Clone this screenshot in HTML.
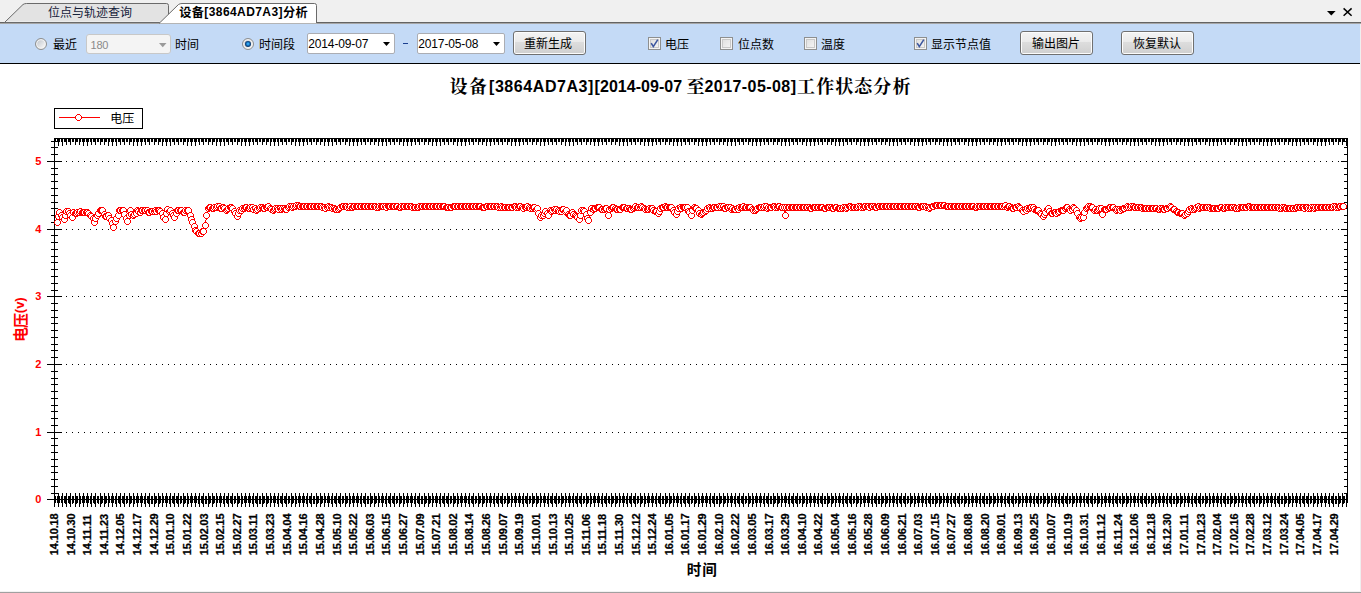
<!DOCTYPE html><html lang="zh"><head><meta charset="utf-8"><title>设备[3864AD7A3]分析</title><style>

html,body{margin:0;padding:0}
body{width:1361px;height:593px;overflow:hidden;background:#fff;position:relative;font-family:"Liberation Sans","Noto Sans CJK SC",sans-serif;font-size:12px;color:#000}
.abs{position:absolute}
#tabstrip{left:0;top:0;width:1361px;height:24px;background:#f0f0f0}
#toolbar{left:0;top:24px;width:1360px;height:39px;background:#c4daf6}
#tbline{left:0;top:63px;width:1361px;height:1px;background:#000}
.lat{position:absolute;white-space:pre;line-height:1}
.btn{position:absolute;box-sizing:border-box;height:24px;width:73px;border:1px solid #707070;border-radius:3px;
 background:linear-gradient(#f3f3f3 0%,#ebebeb 43%,#dddddd 47%,#cfcfcf 100%);box-shadow:inset 0 0 0 1px #fcfcfc}
.date{position:absolute;box-sizing:border-box;width:88px;height:21px;top:9px;border:1px solid #abadb3;border-radius:2px;background:#fff}
.combo{position:absolute;box-sizing:border-box;left:86px;top:10px;width:85px;height:20px;border:1px solid #c8c8c8;border-radius:3px;background:#f4f4f4}
.chk{position:absolute;box-sizing:border-box;width:13px;height:13px;top:13px;border:1px solid #8e8f8f;background:linear-gradient(135deg,#dcdcdc,#f8f8f8);box-shadow:inset 0 0 0 1px #f4f4f4, inset 0 0 0 2px #c9c9c9}
.radio{position:absolute;box-sizing:border-box;width:12px;height:12px;top:14px;border:1px solid #8e8f8f;border-radius:50%;background:linear-gradient(135deg,#c4c9cf 15%,#f7f7f7 85%);box-shadow:inset 0 0 0 1.2px #f3f3f3}
.cjk{font-family:"Liberation Sans","Noto Sans CJK SC",sans-serif}
.cjkserif{font-family:"Liberation Serif","Noto Serif CJK SC",serif}

</style></head><body>
<div id="tabstrip" class="abs"></div>
<svg class="abs" style="left:0;top:0" width="1361" height="24" viewBox="0 0 1361 24"><rect x="0" y="22" width="1361" height="1" fill="#636363"/><rect x="0" y="23" width="1361" height="1" fill="#a6a6a6"/><path d="M4.5 22.5 L23 4.5 Q24.5 3.5 26.5 3.5 L166.5 3.5 Q168.5 3.5 168.5 5.5 L168.5 22.5 Z" fill="#e3e3e3" stroke="#6a6a6a" stroke-width="1"/><rect x="6" y="21" width="154" height="1" fill="#ebebeb"/><path d="M159.5 23 L178.5 4.5 Q180 3.5 182 3.5 L314.5 3.5 Q316.5 3.5 316.5 5.5 L316.5 23 Z" fill="#fff" stroke="#6a6a6a" stroke-width="1"/><rect x="160.6" y="22" width="155.4" height="1" fill="#fff"/><rect x="160" y="23" width="157" height="1" fill="#b4b4b4"/><path d="M1327 11 h8.6 l-4.3 4.4 z" fill="#000"/><path d="M1343.6 8.4 L1351.6 15.8 M1351.6 8.4 L1343.6 15.8" stroke="#000" stroke-width="1.5" fill="none"/></svg>
<svg style="position:absolute;left:47.8px;top:5px;overflow:visible" width="86" height="16"><text class="cjk" x="0" y="12" font-size="12" fill="#15213a">位点与轨迹查询</text></svg>
<svg style="position:absolute;left:178.5px;top:5px;overflow:visible" width="26" height="16"><text class="cjk" x="0.2" y="12" font-size="12.2" font-weight="bold" letter-spacing="0.4" fill="#000">设备</text></svg>
<span class="lat" style="left:204.3px;top:6px;font-weight:bold;font-size:12px;letter-spacing:0.42px">[3864AD7A3]</span>
<svg style="position:absolute;left:282.6px;top:5px;overflow:visible" width="26" height="16"><text class="cjk" x="0.1" y="12" font-size="12.2" font-weight="bold" letter-spacing="0.2" fill="#000">分析</text></svg>
<div id="toolbar" class="abs">
<div class="radio" style="left:35px"></div>
<div class="combo"><span class="lat" style="left:3.6px;top:4.5px;font-size:11px;color:#8a8a8a;letter-spacing:-0.3px">180</span><svg class="abs" style="left:72px;top:8px" width="8" height="5"><path d="M0 0h7.5L3.75 4.2z" fill="#9a9a9a"/></svg></div>
<div class="radio" style="left:242px"><div class="abs" style="left:1.7px;top:1.7px;width:6.6px;height:6.6px;border-radius:50%;background:radial-gradient(circle closest-side at 50% 48%,#4fc0ff 0%,#1f92e2 38%,#10579c 72%,#0b3566 100%)"></div></div>
<div class="date" style="left:307px"><span class="lat" style="left:0.3px;top:3.5px;font-size:12px;letter-spacing:-0.15px">2014-09-07</span><svg class="abs" style="left:75px;top:8px" width="8" height="5"><path d="M0 0h7L3.5 4z" fill="#000"/></svg></div>
<div class="date" style="left:417px"><span class="lat" style="left:0.3px;top:3.5px;font-size:12px;letter-spacing:-0.15px">2017-05-08</span><svg class="abs" style="left:75px;top:8px" width="8" height="5"><path d="M0 0h7L3.5 4z" fill="#000"/></svg></div>
<div class="abs" style="left:403px;top:19px;width:5px;height:1px;background:#1b3f8f"></div>
<div class="btn" style="left:513px;top:7px"></div>
<div class="btn" style="left:1020px;top:7px"></div>
<div class="btn" style="left:1121px;top:7px"></div>
<div class="chk" style="left:648px"><svg class="abs" style="left:0;top:0" width="11" height="11"><path d="M2.2 5.2 L4.3 8.6 L8.8 1.6" fill="none" stroke="#3d579f" stroke-width="1.6"/></svg></div>
<div class="chk" style="left:720px"></div>
<div class="chk" style="left:804px"></div>
<div class="chk" style="left:914px"><svg class="abs" style="left:0;top:0" width="11" height="11"><path d="M2.2 5.2 L4.3 8.6 L8.8 1.6" fill="none" stroke="#3d579f" stroke-width="1.6"/></svg></div>
</div>
<div id="tbline" class="abs"></div>
<svg style="position:absolute;left:52.7px;top:37px;overflow:visible" width="26" height="16"><text class="cjk" x="0" y="11.7" font-size="12" fill="#000">最近</text></svg>
<svg style="position:absolute;left:175px;top:37px;overflow:visible" width="26" height="16"><text class="cjk" x="0" y="11.7" font-size="12" fill="#000">时间</text></svg>
<svg style="position:absolute;left:258.9px;top:37px;overflow:visible" width="38" height="16"><text class="cjk" x="0" y="11.7" font-size="12" fill="#000">时间段</text></svg>
<svg style="position:absolute;left:524.2px;top:37px;overflow:visible" width="50" height="16"><text class="cjk" x="0" y="11" font-size="12" fill="#000">重新生成</text></svg>
<svg style="position:absolute;left:665.3px;top:37px;overflow:visible" width="26" height="16"><text class="cjk" x="0" y="11.7" font-size="12" fill="#000">电压</text></svg>
<svg style="position:absolute;left:738px;top:37px;overflow:visible" width="38" height="16"><text class="cjk" x="0" y="11.7" font-size="12" fill="#000">位点数</text></svg>
<svg style="position:absolute;left:821.3px;top:37px;overflow:visible" width="26" height="16"><text class="cjk" x="0" y="11.7" font-size="12" fill="#000">温度</text></svg>
<svg style="position:absolute;left:931.3px;top:37px;overflow:visible" width="62" height="16"><text class="cjk" x="0" y="11.7" font-size="12" fill="#000">显示节点值</text></svg>
<svg style="position:absolute;left:1031.6px;top:37px;overflow:visible" width="50" height="16"><text class="cjk" x="0" y="11" font-size="12" fill="#000">输出图片</text></svg>
<svg style="position:absolute;left:1132.5px;top:37px;overflow:visible" width="50" height="16"><text class="cjk" x="0" y="11" font-size="12" fill="#000">恢复默认</text></svg>
<svg class="abs" style="left:0;top:0" width="1361" height="593" viewBox="0 0 1361 593" font-family='"Liberation Sans",sans-serif'><rect x="1360" y="24" width="1" height="569" fill="#efefef"/><rect x="0" y="591" width="1361" height="1" fill="#f2f2f2"/><rect x="0" y="592" width="1361" height="1" fill="#a0a0a0"/><g shape-rendering="crispEdges" fill="#000"><rect x="54" y="138" width="1294" height="1"/><rect x="47" y="499" width="1301" height="1"/><rect x="54" y="138" width="1" height="362"/><rect x="1347" y="138" width="1" height="365"/><path transform="translate(0.5 0)" d="M54 139v7M54 493v14M55 139v3M55 496v7M57 139v3M57 496v7M58 139v7M58 493v14M59 139v3M59 496v7M61 139v3M61 496v7M62 139v7M62 493v14M64 139v3M64 496v7M65 139v3M65 496v8M66 139v6M66 493v14M68 139v3M68 496v7M69 139v3M69 496v8M70 139v6M70 493v14M72 139v3M72 496v8M73 139v3M73 496v7M75 139v6M75 493v14M76 139v3M76 496v8M77 139v3M77 496v7M79 139v6M79 493v14M80 139v3M80 496v8M82 139v3M82 496v7M83 139v7M83 493v14M84 139v3M84 496v7M86 139v3M86 496v7M87 139v7M87 493v14M88 139v3M88 496v7M90 139v3M90 496v8M91 139v6M91 493v14M93 139v3M93 496v7M94 139v3M94 496v8M95 139v6M95 493v14M97 139v3M97 496v7M98 139v3M98 496v8M100 139v6M100 493v14M101 139v3M101 496v8M102 139v3M102 496v7M104 139v6M104 493v14M105 139v3M105 496v8M106 139v3M106 496v7M108 139v7M108 493v14M109 139v3M109 496v7M111 139v3M111 496v7M112 139v7M112 493v14M113 139v3M113 496v7M115 139v3M115 496v8M116 139v7M116 493v14M118 139v3M118 496v7M119 139v3M119 496v8M120 139v6M120 493v14M122 139v3M122 496v7M123 139v3M123 496v8M124 139v6M124 493v14M126 139v3M126 496v8M127 139v3M127 496v7M129 139v6M129 493v14M130 139v3M130 496v8M131 139v3M131 496v7M133 139v7M133 493v14M134 139v3M134 496v8M136 139v3M136 496v7M137 139v7M137 493v14M138 139v3M138 496v7M140 139v3M140 496v7M141 139v7M141 493v14M142 139v3M142 496v7M144 139v3M144 496v8M145 139v6M145 493v14M147 139v3M147 496v7M148 139v3M148 496v8M149 139v6M149 493v14M151 139v3M151 496v8M152 139v3M152 496v8M154 139v6M154 493v14M155 139v3M155 496v8M156 139v3M156 496v7M158 139v6M158 493v14M159 139v3M159 496v8M160 139v3M160 496v7M162 139v7M162 493v14M163 139v3M163 496v7M165 139v3M165 496v7M166 139v7M166 493v14M167 139v3M167 496v7M169 139v3M169 496v8M170 139v7M170 493v14M172 139v3M172 496v7M173 139v3M173 496v8M174 139v6M174 493v14M176 139v3M176 496v7M177 139v3M177 496v8M178 139v6M178 493v14M180 139v3M180 496v8M181 139v3M181 496v7M183 139v6M183 493v14M184 139v3M184 496v8M185 139v3M185 496v7M187 139v7M187 493v14M188 139v3M188 496v8M190 139v3M190 496v7M191 139v7M191 493v14M192 139v3M192 496v7M194 139v3M194 496v7M195 139v7M195 493v14M196 139v3M196 496v7M198 139v3M198 496v8M199 139v6M199 493v14M201 139v3M201 496v7M202 139v3M202 496v8M203 139v6M203 493v14M205 139v3M205 496v8M206 139v3M206 496v8M208 139v6M208 493v14M209 139v3M209 496v8M210 139v3M210 496v7M212 139v6M212 493v14M213 139v3M213 496v8M214 139v3M214 496v7M216 139v7M216 493v14M217 139v3M217 496v7M219 139v3M219 496v7M220 139v7M220 493v14M221 139v3M221 496v7M223 139v3M223 496v8M224 139v7M224 493v14M226 139v3M226 496v7M227 139v3M227 496v8M228 139v6M228 493v14M230 139v3M230 496v7M231 139v3M231 496v8M232 139v6M232 493v14M234 139v3M234 496v8M235 139v3M235 496v7M237 139v6M237 493v14M238 139v3M238 496v8M239 139v3M239 496v7M241 139v7M241 493v14M242 139v3M242 496v8M244 139v3M244 496v7M245 139v7M245 493v14M246 139v3M246 496v7M248 139v3M248 496v7M249 139v7M249 493v14M250 139v3M250 496v7M252 139v3M252 496v8M253 139v6M253 493v14M255 139v3M255 496v7M256 139v3M256 496v8M257 139v6M257 493v14M259 139v3M259 496v8M260 139v3M260 496v8M262 139v6M262 493v14M263 139v3M263 496v8M264 139v3M264 496v7M266 139v6M266 493v14M267 139v3M267 496v8M268 139v3M268 496v7M270 139v7M270 493v14M271 139v3M271 496v7M273 139v3M273 496v7M274 139v7M274 493v14M275 139v3M275 496v7M277 139v3M277 496v8M278 139v7M278 493v14M280 139v3M280 496v7M281 139v3M281 496v8M282 139v6M282 493v14M284 139v3M284 496v7M285 139v3M285 496v8M286 139v6M286 493v14M288 139v3M288 496v8M289 139v3M289 496v7M291 139v6M291 493v14M292 139v3M292 496v8M293 139v3M293 496v7M295 139v7M295 493v14M296 139v3M296 496v8M298 139v3M298 496v7M299 139v7M299 493v14M300 139v3M300 496v7M302 139v3M302 496v7M303 139v7M303 493v14M304 139v3M304 496v7M306 139v3M306 496v8M307 139v6M307 493v14M309 139v3M309 496v7M310 139v3M310 496v8M311 139v6M311 493v14M313 139v3M313 496v8M314 139v3M314 496v8M316 139v6M316 493v14M317 139v3M317 496v8M318 139v3M318 496v7M320 139v6M320 493v14M321 139v3M321 496v8M322 139v3M322 496v7M324 139v7M324 493v14M325 139v3M325 496v7M327 139v3M327 496v7M328 139v7M328 493v14M329 139v3M329 496v7M331 139v3M331 496v8M332 139v7M332 493v14M334 139v3M334 496v7M335 139v3M335 496v8M336 139v6M336 493v14M338 139v3M338 496v7M339 139v3M339 496v8M340 139v6M340 493v14M342 139v3M342 496v8M343 139v3M343 496v7M345 139v6M345 493v14M346 139v3M346 496v8M347 139v3M347 496v7M349 139v7M349 493v14M350 139v3M350 496v8M352 139v3M352 496v7M353 139v7M353 493v14M354 139v3M354 496v7M356 139v3M356 496v7M357 139v7M357 493v14M358 139v3M358 496v7M360 139v3M360 496v8M361 139v6M361 493v14M363 139v3M363 496v7M364 139v3M364 496v8M365 139v6M365 493v14M367 139v3M367 496v8M368 139v3M368 496v8M370 139v6M370 493v14M371 139v3M371 496v8M372 139v3M372 496v7M374 139v6M374 493v14M375 139v3M375 496v8M376 139v3M376 496v7M378 139v7M378 493v14M379 139v3M379 496v7M381 139v3M381 496v7M382 139v7M382 493v14M383 139v3M383 496v7M385 139v3M385 496v8M386 139v7M386 493v14M388 139v3M388 496v7M389 139v3M389 496v8M390 139v6M390 493v14M392 139v3M392 496v7M393 139v3M393 496v8M394 139v6M394 493v14M396 139v3M396 496v8M397 139v3M397 496v7M399 139v6M399 493v14M400 139v3M400 496v8M401 139v3M401 496v7M403 139v7M403 493v14M404 139v3M404 496v8M406 139v3M406 496v7M407 139v7M407 493v14M408 139v3M408 496v7M410 139v3M410 496v7M411 139v7M411 493v14M412 139v3M412 496v7M414 139v3M414 496v8M415 139v6M415 493v14M417 139v3M417 496v7M418 139v3M418 496v8M419 139v6M419 493v14M421 139v3M421 496v8M422 139v3M422 496v8M424 139v6M424 493v14M425 139v3M425 496v8M426 139v3M426 496v7M428 139v6M428 493v14M429 139v3M429 496v8M430 139v3M430 496v7M432 139v7M432 493v14M433 139v3M433 496v7M435 139v3M435 496v7M436 139v7M436 493v14M437 139v3M437 496v7M439 139v3M439 496v8M440 139v7M440 493v14M442 139v3M442 496v7M443 139v3M443 496v8M444 139v6M444 493v14M446 139v3M446 496v7M447 139v3M447 496v8M448 139v6M448 493v14M450 139v3M450 496v8M451 139v3M451 496v7M453 139v6M453 493v14M454 139v3M454 496v8M455 139v3M455 496v7M457 139v7M457 493v14M458 139v3M458 496v8M460 139v3M460 496v7M461 139v7M461 493v14M462 139v3M462 496v7M464 139v3M464 496v7M465 139v7M465 493v14M466 139v3M466 496v7M468 139v3M468 496v8M469 139v6M469 493v14M471 139v3M471 496v7M472 139v3M472 496v8M473 139v6M473 493v14M475 139v3M475 496v8M476 139v3M476 496v7M478 139v6M478 493v14M479 139v3M479 496v8M480 139v3M480 496v7M482 139v6M482 493v14M483 139v3M483 496v8M484 139v3M484 496v7M486 139v7M486 493v14M487 139v3M487 496v7M489 139v3M489 496v7M490 139v7M490 493v14M491 139v3M491 496v7M493 139v3M493 496v8M494 139v6M494 493v14M496 139v3M496 496v7M497 139v3M497 496v8M498 139v6M498 493v14M500 139v3M500 496v7M501 139v3M501 496v8M502 139v6M502 493v14M504 139v3M504 496v8M505 139v3M505 496v7M507 139v6M507 493v14M508 139v3M508 496v8M509 139v3M509 496v7M511 139v7M511 493v14M512 139v3M512 496v7M514 139v3M514 496v7M515 139v7M515 493v14M516 139v3M516 496v7M518 139v3M518 496v7M519 139v7M519 493v14M520 139v3M520 496v7M522 139v3M522 496v8M523 139v6M523 493v14M525 139v3M525 496v7M526 139v3M526 496v8M527 139v6M527 493v14M529 139v3M529 496v8M530 139v3M530 496v7M532 139v6M532 493v14M533 139v3M533 496v8M534 139v3M534 496v7M536 139v6M536 493v14M537 139v3M537 496v8M538 139v3M538 496v7M540 139v7M540 493v14M541 139v3M541 496v7M543 139v3M543 496v7M544 139v7M544 493v14M545 139v3M545 496v7M547 139v3M547 496v8M548 139v6M548 493v14M550 139v3M550 496v7M551 139v3M551 496v8M552 139v6M552 493v14M554 139v3M554 496v7M555 139v3M555 496v8M556 139v6M556 493v14M558 139v3M558 496v8M559 139v3M559 496v7M561 139v6M561 493v14M562 139v3M562 496v8M563 139v3M563 496v7M565 139v7M565 493v14M566 139v3M566 496v7M568 139v3M568 496v7M569 139v7M569 493v14M570 139v3M570 496v7M572 139v3M572 496v7M573 139v7M573 493v14M575 139v3M575 496v7M576 139v3M576 496v8M577 139v6M577 493v14M579 139v3M579 496v7M580 139v3M580 496v8M581 139v6M581 493v14M583 139v3M583 496v8M584 139v3M584 496v7M586 139v6M586 493v14M587 139v3M587 496v8M588 139v3M588 496v7M590 139v6M590 493v14M591 139v3M591 496v8M593 139v3M593 496v7M594 139v7M594 493v14M595 139v3M595 496v7M597 139v3M597 496v7M598 139v7M598 493v14M599 139v3M599 496v7M601 139v3M601 496v8M602 139v6M602 493v14M604 139v3M604 496v7M605 139v3M605 496v8M606 139v6M606 493v14M608 139v3M608 496v7M609 139v3M609 496v8M611 139v6M611 493v14M612 139v3M612 496v8M613 139v3M613 496v7M615 139v6M615 493v14M616 139v3M616 496v8M617 139v3M617 496v7M619 139v7M619 493v14M620 139v3M620 496v7M622 139v3M622 496v7M623 139v7M623 493v14M624 139v3M624 496v7M626 139v3M626 496v8M627 139v7M627 493v14M629 139v3M629 496v7M630 139v3M630 496v8M631 139v6M631 493v14M633 139v3M633 496v7M634 139v3M634 496v8M635 139v6M635 493v14M637 139v3M637 496v8M638 139v3M638 496v7M640 139v6M640 493v14M641 139v3M641 496v8M642 139v3M642 496v7M644 139v7M644 493v14M645 139v3M645 496v8M647 139v3M647 496v7M648 139v7M648 493v14M649 139v3M649 496v7M651 139v3M651 496v7M652 139v7M652 493v14M653 139v3M653 496v7M655 139v3M655 496v8M656 139v6M656 493v14M658 139v3M658 496v7M659 139v3M659 496v8M660 139v6M660 493v14M662 139v3M662 496v8M663 139v3M663 496v8M665 139v6M665 493v14M666 139v3M666 496v8M667 139v3M667 496v7M669 139v6M669 493v14M670 139v3M670 496v8M671 139v3M671 496v7M673 139v7M673 493v14M674 139v3M674 496v7M676 139v3M676 496v7M677 139v7M677 493v14M678 139v3M678 496v7M680 139v3M680 496v8M681 139v7M681 493v14M683 139v3M683 496v7M684 139v3M684 496v8M685 139v6M685 493v14M687 139v3M687 496v7M688 139v3M688 496v8M689 139v6M689 493v14M691 139v3M691 496v8M692 139v3M692 496v7M694 139v6M694 493v14M695 139v3M695 496v8M696 139v3M696 496v7M698 139v7M698 493v14M699 139v3M699 496v8M701 139v3M701 496v7M702 139v7M702 493v14M703 139v3M703 496v7M705 139v3M705 496v7M706 139v7M706 493v14M707 139v3M707 496v7M709 139v3M709 496v8M710 139v6M710 493v14M712 139v3M712 496v7M713 139v3M713 496v8M714 139v6M714 493v14M716 139v3M716 496v8M717 139v3M717 496v8M719 139v6M719 493v14M720 139v3M720 496v8M721 139v3M721 496v7M723 139v6M723 493v14M724 139v3M724 496v8M725 139v3M725 496v7M727 139v7M727 493v14M728 139v3M728 496v7M730 139v3M730 496v7M731 139v7M731 493v14M732 139v3M732 496v7M734 139v3M734 496v8M735 139v7M735 493v14M737 139v3M737 496v7M738 139v3M738 496v8M739 139v6M739 493v14M741 139v3M741 496v7M742 139v3M742 496v8M743 139v6M743 493v14M745 139v3M745 496v8M746 139v3M746 496v7M748 139v6M748 493v14M749 139v3M749 496v8M750 139v3M750 496v7M752 139v7M752 493v14M753 139v3M753 496v8M755 139v3M755 496v7M756 139v7M756 493v14M757 139v3M757 496v7M759 139v3M759 496v7M760 139v7M760 493v14M761 139v3M761 496v7M763 139v3M763 496v8M764 139v6M764 493v14M766 139v3M766 496v7M767 139v3M767 496v8M768 139v6M768 493v14M770 139v3M770 496v8M771 139v3M771 496v8M773 139v6M773 493v14M774 139v3M774 496v8M775 139v3M775 496v7M777 139v6M777 493v14M778 139v3M778 496v8M779 139v3M779 496v7M781 139v7M781 493v14M782 139v3M782 496v7M784 139v3M784 496v7M785 139v7M785 493v14M786 139v3M786 496v7M788 139v3M788 496v8M789 139v7M789 493v14M791 139v3M791 496v7M792 139v3M792 496v8M793 139v6M793 493v14M795 139v3M795 496v7M796 139v3M796 496v8M797 139v6M797 493v14M799 139v3M799 496v8M800 139v3M800 496v7M802 139v6M802 493v14M803 139v3M803 496v8M804 139v3M804 496v7M806 139v7M806 493v14M807 139v3M807 496v8M809 139v3M809 496v7M810 139v7M810 493v14M811 139v3M811 496v7M813 139v3M813 496v7M814 139v7M814 493v14M815 139v3M815 496v7M817 139v3M817 496v8M818 139v6M818 493v14M820 139v3M820 496v7M821 139v3M821 496v8M822 139v6M822 493v14M824 139v3M824 496v8M825 139v3M825 496v8M827 139v6M827 493v14M828 139v3M828 496v8M829 139v3M829 496v7M831 139v6M831 493v14M832 139v3M832 496v8M833 139v3M833 496v7M835 139v7M835 493v14M836 139v3M836 496v7M838 139v3M838 496v7M839 139v7M839 493v14M840 139v3M840 496v7M842 139v3M842 496v8M843 139v7M843 493v14M845 139v3M845 496v7M846 139v3M846 496v8M847 139v6M847 493v14M849 139v3M849 496v7M850 139v3M850 496v8M851 139v6M851 493v14M853 139v3M853 496v8M854 139v3M854 496v7M856 139v6M856 493v14M857 139v3M857 496v8M858 139v3M858 496v7M860 139v7M860 493v14M861 139v3M861 496v8M863 139v3M863 496v7M864 139v7M864 493v14M865 139v3M865 496v7M867 139v3M867 496v7M868 139v7M868 493v14M869 139v3M869 496v7M871 139v3M871 496v8M872 139v6M872 493v14M874 139v3M874 496v7M875 139v3M875 496v8M876 139v6M876 493v14M878 139v3M878 496v8M879 139v3M879 496v8M881 139v6M881 493v14M882 139v3M882 496v8M883 139v3M883 496v7M885 139v6M885 493v14M886 139v3M886 496v8M887 139v3M887 496v7M889 139v7M889 493v14M890 139v3M890 496v7M892 139v3M892 496v7M893 139v7M893 493v14M894 139v3M894 496v7M896 139v3M896 496v8M897 139v7M897 493v14M899 139v3M899 496v7M900 139v3M900 496v8M901 139v6M901 493v14M903 139v3M903 496v7M904 139v3M904 496v8M905 139v6M905 493v14M907 139v3M907 496v8M908 139v3M908 496v7M910 139v6M910 493v14M911 139v3M911 496v8M912 139v3M912 496v7M914 139v7M914 493v14M915 139v3M915 496v8M917 139v3M917 496v7M918 139v7M918 493v14M919 139v3M919 496v7M921 139v3M921 496v7M922 139v7M922 493v14M923 139v3M923 496v7M925 139v3M925 496v8M926 139v6M926 493v14M928 139v3M928 496v7M929 139v3M929 496v8M930 139v6M930 493v14M932 139v3M932 496v8M933 139v3M933 496v8M935 139v6M935 493v14M936 139v3M936 496v8M937 139v3M937 496v7M939 139v6M939 493v14M940 139v3M940 496v8M941 139v3M941 496v7M943 139v7M943 493v14M944 139v3M944 496v7M946 139v3M946 496v7M947 139v7M947 493v14M948 139v3M948 496v7M950 139v3M950 496v8M951 139v7M951 493v14M953 139v3M953 496v7M954 139v3M954 496v8M955 139v6M955 493v14M957 139v3M957 496v7M958 139v3M958 496v8M959 139v6M959 493v14M961 139v3M961 496v8M962 139v3M962 496v7M964 139v6M964 493v14M965 139v3M965 496v8M966 139v3M966 496v7M968 139v7M968 493v14M969 139v3M969 496v8M971 139v3M971 496v7M972 139v7M972 493v14M973 139v3M973 496v7M975 139v3M975 496v7M976 139v7M976 493v14M977 139v3M977 496v7M979 139v3M979 496v8M980 139v6M980 493v14M982 139v3M982 496v7M983 139v3M983 496v8M984 139v6M984 493v14M986 139v3M986 496v8M987 139v3M987 496v8M989 139v6M989 493v14M990 139v3M990 496v8M991 139v3M991 496v7M993 139v6M993 493v14M994 139v3M994 496v8M995 139v3M995 496v7M997 139v7M997 493v14M998 139v3M998 496v7M1000 139v3M1000 496v7M1001 139v7M1001 493v14M1002 139v3M1002 496v7M1004 139v3M1004 496v8M1005 139v6M1005 493v14M1007 139v3M1007 496v7M1008 139v3M1008 496v8M1009 139v6M1009 493v14M1011 139v3M1011 496v7M1012 139v3M1012 496v8M1013 139v6M1013 493v14M1015 139v3M1015 496v8M1016 139v3M1016 496v7M1018 139v6M1018 493v14M1019 139v3M1019 496v8M1020 139v3M1020 496v7M1022 139v7M1022 493v14M1023 139v3M1023 496v7M1025 139v3M1025 496v7M1026 139v7M1026 493v14M1027 139v3M1027 496v7M1029 139v3M1029 496v7M1030 139v7M1030 493v14M1031 139v3M1031 496v7M1033 139v3M1033 496v8M1034 139v6M1034 493v14M1036 139v3M1036 496v7M1037 139v3M1037 496v8M1038 139v6M1038 493v14M1040 139v3M1040 496v8M1041 139v3M1041 496v7M1043 139v6M1043 493v14M1044 139v3M1044 496v8M1045 139v3M1045 496v7M1047 139v6M1047 493v14M1048 139v3M1048 496v8M1049 139v3M1049 496v7M1051 139v7M1051 493v14M1052 139v3M1052 496v7M1054 139v3M1054 496v7M1055 139v7M1055 493v14M1056 139v3M1056 496v7M1058 139v3M1058 496v8M1059 139v6M1059 493v14M1061 139v3M1061 496v7M1062 139v3M1062 496v8M1063 139v6M1063 493v14M1065 139v3M1065 496v7M1066 139v3M1066 496v8M1067 139v6M1067 493v14M1069 139v3M1069 496v8M1070 139v3M1070 496v7M1072 139v6M1072 493v14M1073 139v3M1073 496v8M1074 139v3M1074 496v7M1076 139v7M1076 493v14M1077 139v3M1077 496v7M1079 139v3M1079 496v7M1080 139v7M1080 493v14M1081 139v3M1081 496v7M1083 139v3M1083 496v7M1084 139v7M1084 493v14M1086 139v3M1086 496v7M1087 139v3M1087 496v8M1088 139v6M1088 493v14M1090 139v3M1090 496v7M1091 139v3M1091 496v8M1092 139v6M1092 493v14M1094 139v3M1094 496v8M1095 139v3M1095 496v7M1097 139v6M1097 493v14M1098 139v3M1098 496v8M1099 139v3M1099 496v7M1101 139v6M1101 493v14M1102 139v3M1102 496v8M1104 139v3M1104 496v7M1105 139v7M1105 493v14M1106 139v3M1106 496v7M1108 139v3M1108 496v7M1109 139v7M1109 493v14M1110 139v3M1110 496v7M1112 139v3M1112 496v8M1113 139v6M1113 493v14M1115 139v3M1115 496v7M1116 139v3M1116 496v8M1117 139v6M1117 493v14M1119 139v3M1119 496v7M1120 139v3M1120 496v8M1122 139v6M1122 493v14M1123 139v3M1123 496v8M1124 139v3M1124 496v7M1126 139v6M1126 493v14M1127 139v3M1127 496v8M1128 139v3M1128 496v7M1130 139v7M1130 493v14M1131 139v3M1131 496v7M1133 139v3M1133 496v7M1134 139v7M1134 493v14M1135 139v3M1135 496v7M1137 139v3M1137 496v7M1138 139v7M1138 493v14M1140 139v3M1140 496v7M1141 139v3M1141 496v8M1142 139v6M1142 493v14M1144 139v3M1144 496v7M1145 139v3M1145 496v8M1146 139v6M1146 493v14M1148 139v3M1148 496v8M1149 139v3M1149 496v7M1151 139v6M1151 493v14M1152 139v3M1152 496v8M1153 139v3M1153 496v7M1155 139v7M1155 493v14M1156 139v3M1156 496v8M1158 139v3M1158 496v7M1159 139v7M1159 493v14M1160 139v3M1160 496v7M1162 139v3M1162 496v7M1163 139v7M1163 493v14M1164 139v3M1164 496v7M1166 139v3M1166 496v8M1167 139v6M1167 493v14M1169 139v3M1169 496v7M1170 139v3M1170 496v8M1171 139v6M1171 493v14M1173 139v3M1173 496v8M1174 139v3M1174 496v8M1176 139v6M1176 493v14M1177 139v3M1177 496v8M1178 139v3M1178 496v7M1180 139v6M1180 493v14M1181 139v3M1181 496v8M1182 139v3M1182 496v7M1184 139v7M1184 493v14M1185 139v3M1185 496v7M1187 139v3M1187 496v7M1188 139v7M1188 493v14M1189 139v3M1189 496v7M1191 139v3M1191 496v8M1192 139v7M1192 493v14M1194 139v3M1194 496v7M1195 139v3M1195 496v8M1196 139v6M1196 493v14M1198 139v3M1198 496v7M1199 139v3M1199 496v8M1200 139v6M1200 493v14M1202 139v3M1202 496v8M1203 139v3M1203 496v7M1205 139v6M1205 493v14M1206 139v3M1206 496v8M1207 139v3M1207 496v7M1209 139v7M1209 493v14M1210 139v3M1210 496v8M1212 139v3M1212 496v7M1213 139v7M1213 493v14M1214 139v3M1214 496v7M1216 139v3M1216 496v7M1217 139v7M1217 493v14M1218 139v3M1218 496v7M1220 139v3M1220 496v8M1221 139v6M1221 493v14M1223 139v3M1223 496v7M1224 139v3M1224 496v8M1225 139v6M1225 493v14M1227 139v3M1227 496v8M1228 139v3M1228 496v8M1230 139v6M1230 493v14M1231 139v3M1231 496v8M1232 139v3M1232 496v7M1234 139v6M1234 493v14M1235 139v3M1235 496v8M1236 139v3M1236 496v7M1238 139v7M1238 493v14M1239 139v3M1239 496v7M1241 139v3M1241 496v7M1242 139v7M1242 493v14M1243 139v3M1243 496v7M1245 139v3M1245 496v8M1246 139v7M1246 493v14M1248 139v3M1248 496v7M1249 139v3M1249 496v8M1250 139v6M1250 493v14M1252 139v3M1252 496v7M1253 139v3M1253 496v8M1254 139v6M1254 493v14M1256 139v3M1256 496v8M1257 139v3M1257 496v7M1259 139v6M1259 493v14M1260 139v3M1260 496v8M1261 139v3M1261 496v7M1263 139v7M1263 493v14M1264 139v3M1264 496v8M1266 139v3M1266 496v7M1267 139v7M1267 493v14M1268 139v3M1268 496v7M1270 139v3M1270 496v7M1271 139v7M1271 493v14M1272 139v3M1272 496v7M1274 139v3M1274 496v8M1275 139v6M1275 493v14M1277 139v3M1277 496v7M1278 139v3M1278 496v8M1279 139v6M1279 493v14M1281 139v3M1281 496v8M1282 139v3M1282 496v8M1284 139v6M1284 493v14M1285 139v3M1285 496v8M1286 139v3M1286 496v7M1288 139v6M1288 493v14M1289 139v3M1289 496v8M1290 139v3M1290 496v7M1292 139v7M1292 493v14M1293 139v3M1293 496v7M1295 139v3M1295 496v7M1296 139v7M1296 493v14M1297 139v3M1297 496v7M1299 139v3M1299 496v8M1300 139v7M1300 493v14M1302 139v3M1302 496v7M1303 139v3M1303 496v8M1304 139v6M1304 493v14M1306 139v3M1306 496v7M1307 139v3M1307 496v8M1308 139v6M1308 493v14M1310 139v3M1310 496v8M1311 139v3M1311 496v7M1313 139v6M1313 493v14M1314 139v3M1314 496v8M1315 139v3M1315 496v7M1317 139v7M1317 493v14M1318 139v3M1318 496v8M1320 139v3M1320 496v7M1321 139v7M1321 493v14M1322 139v3M1322 496v7M1324 139v3M1324 496v7M1325 139v7M1325 493v14M1326 139v3M1326 496v7M1328 139v3M1328 496v8M1329 139v6M1329 493v14M1331 139v3M1331 496v7M1332 139v3M1332 496v8M1333 139v6M1333 493v14M1335 139v3M1335 496v8M1336 139v3M1336 496v8M1338 139v6M1338 493v14M1339 139v3M1339 496v8M1340 139v3M1340 496v7M1342 139v6M1342 493v14M1343 139v3M1343 496v8M1344 139v3M1344 496v7M1346 139v7M1346 493v14" stroke="#000" stroke-width="1" fill="none"/><path transform="translate(0 0.5)" d="M47 499h15M1341 499h6M51 493h7M1344 493h3M51 486h7M1344 486h3M51 479h7M1344 479h3M51 472h7M1344 472h3M51 466h7M1344 466h3M51 459h7M1344 459h3M51 452h7M1344 452h3M51 445h7M1344 445h3M51 438h7M1344 438h3M47 432h15M1341 432h6M51 425h7M1344 425h3M51 418h7M1344 418h3M51 411h7M1344 411h3M51 405h7M1344 405h3M51 398h7M1344 398h3M51 391h7M1344 391h3M51 384h7M1344 384h3M51 378h7M1344 378h3M51 371h7M1344 371h3M47 364h15M1341 364h6M51 357h7M1344 357h3M51 350h7M1344 350h3M51 344h7M1344 344h3M51 337h7M1344 337h3M51 330h7M1344 330h3M51 323h7M1344 323h3M51 317h7M1344 317h3M51 310h7M1344 310h3M51 303h7M1344 303h3M47 296h15M1341 296h6M51 290h7M1344 290h3M51 283h7M1344 283h3M51 276h7M1344 276h3M51 269h7M1344 269h3M51 262h7M1344 262h3M51 256h7M1344 256h3M51 249h7M1344 249h3M51 242h7M1344 242h3M51 235h7M1344 235h3M47 229h15M1341 229h6M51 222h7M1344 222h3M51 215h7M1344 215h3M51 208h7M1344 208h3M51 202h7M1344 202h3M51 195h7M1344 195h3M51 188h7M1344 188h3M51 181h7M1344 181h3M51 174h7M1344 174h3M51 168h7M1344 168h3M47 161h15M1341 161h6M51 154h7M1344 154h3M51 147h7M1344 147h3M51 141h7M1344 141h3" stroke="#000" stroke-width="1" fill="none"/><path transform="translate(0 0.5)" d="M66 432H1339M66 364H1339M66 296H1339M66 229H1339M66 161H1339" stroke="#000" stroke-width="1" stroke-dasharray="1 5" fill="none"/></g><defs><g id="c" transform="translate(-3.5 -3.5)"><path fill="#fff" d="M2 1h3v1h1v3h-1v1h-3v-1h-1v-3h1z"/><path fill="#f00" d="M2 0h3v1h-3zM1 1h1v1h-1zM5 1h1v1h-1zM0 2h1v3h-1zM6 2h1v3h-1zM1 5h1v1h-1zM5 5h1v1h-1zM2 6h3v1h-3z"/></g></defs><g shape-rendering="crispEdges"><rect x="54.5" y="108.5" width="88" height="20" fill="#fff" stroke="#000"/><rect x="59" y="117" width="41" height="1" fill="#f00"/><use href="#c" x="78.5" y="117.5"/></g><g shape-rendering="crispEdges"><polyline fill="none" stroke="#f00" stroke-width="1" points="57.5,222.5 58.5,216.5 59.5,212.5 61.5,215.5 62.5,217.5 64.5,219.5 65.5,215.5 66.5,211.5 68.5,211.5 69.5,213.5 70.5,215.5 72.5,217.5 73.5,212.5 75.5,213.5 76.5,213.5 77.5,212.5 79.5,212.5 80.5,211.5 82.5,212.5 83.5,212.5 84.5,212.5 86.5,212.5 87.5,212.5 88.5,213.5 90.5,215.5 91.5,216.5 93.5,218.5 94.5,222.5 95.5,218.5 97.5,215.5 98.5,213.5 100.5,210.5 101.5,210.5 102.5,210.5 104.5,214.5 105.5,216.5 106.5,216.5 108.5,215.5 109.5,218.5 111.5,220.5 112.5,223.5 113.5,227.5 115.5,221.5 116.5,218.5 118.5,215.5 119.5,210.5 120.5,210.5 122.5,210.5 123.5,210.5 124.5,214.5 126.5,218.5 127.5,221.5 129.5,215.5 130.5,210.5 131.5,214.5 133.5,215.5 134.5,214.5 136.5,213.5 137.5,210.5 138.5,211.5 140.5,212.5 141.5,210.5 142.5,210.5 144.5,210.5 145.5,210.5 147.5,210.5 148.5,212.5 149.5,212.5 151.5,211.5 152.5,211.5 154.5,211.5 155.5,210.5 156.5,211.5 158.5,210.5 159.5,210.5 160.5,211.5 162.5,213.5 163.5,217.5 165.5,219.5 166.5,213.5 167.5,209.5 169.5,211.5 170.5,210.5 172.5,213.5 173.5,215.5 174.5,217.5 176.5,213.5 177.5,210.5 178.5,210.5 180.5,210.5 181.5,210.5 183.5,212.5 184.5,212.5 185.5,210.5 187.5,210.5 188.5,210.5 190.5,215.5 191.5,219.5 192.5,222.5 194.5,226.5 195.5,230.5 196.5,231.5 198.5,233.5 199.5,233.5 201.5,233.5 202.5,231.5 203.5,231.5 205.5,225.5 206.5,215.5 208.5,208.5 209.5,207.5 210.5,207.5 212.5,208.5 213.5,208.5 214.5,207.5 216.5,207.5 217.5,206.5 219.5,206.5 220.5,208.5 221.5,208.5 223.5,207.5 224.5,208.5 226.5,210.5 227.5,209.5 228.5,208.5 230.5,207.5 231.5,207.5 232.5,208.5 234.5,211.5 235.5,213.5 237.5,216.5 238.5,213.5 239.5,210.5 241.5,210.5 242.5,208.5 244.5,208.5 245.5,207.5 246.5,207.5 248.5,208.5 249.5,208.5 250.5,207.5 252.5,207.5 253.5,209.5 255.5,208.5 256.5,210.5 257.5,209.5 259.5,208.5 260.5,207.5 262.5,207.5 263.5,208.5 264.5,208.5 266.5,207.5 267.5,207.5 268.5,206.5 270.5,208.5 271.5,209.5 273.5,210.5 274.5,209.5 275.5,208.5 277.5,208.5 278.5,209.5 280.5,208.5 281.5,209.5 282.5,208.5 284.5,208.5 285.5,209.5 286.5,209.5 288.5,207.5 289.5,206.5 291.5,206.5 292.5,207.5 293.5,206.5 295.5,206.5 296.5,205.5 298.5,205.5 299.5,206.5 300.5,206.5 302.5,206.5 303.5,206.5 304.5,206.5 306.5,206.5 307.5,206.5 309.5,206.5 310.5,206.5 311.5,206.5 313.5,206.5 314.5,206.5 316.5,206.5 317.5,206.5 318.5,206.5 320.5,206.5 321.5,206.5 322.5,207.5 324.5,207.5 325.5,208.5 327.5,207.5 328.5,206.5 329.5,207.5 331.5,207.5 332.5,208.5 334.5,208.5 335.5,209.5 336.5,209.5 338.5,209.5 339.5,208.5 340.5,207.5 342.5,206.5 343.5,206.5 345.5,206.5 346.5,206.5 347.5,207.5 349.5,207.5 350.5,206.5 352.5,207.5 353.5,206.5 354.5,206.5 356.5,206.5 357.5,206.5 358.5,206.5 360.5,206.5 361.5,206.5 363.5,206.5 364.5,206.5 365.5,206.5 367.5,206.5 368.5,206.5 370.5,206.5 371.5,206.5 372.5,206.5 374.5,206.5 375.5,206.5 376.5,207.5 378.5,207.5 379.5,206.5 381.5,206.5 382.5,206.5 383.5,206.5 385.5,206.5 386.5,207.5 388.5,206.5 389.5,206.5 390.5,206.5 392.5,206.5 393.5,206.5 394.5,206.5 396.5,206.5 397.5,206.5 399.5,207.5 400.5,207.5 401.5,206.5 403.5,206.5 404.5,206.5 406.5,206.5 407.5,206.5 408.5,206.5 410.5,206.5 411.5,206.5 412.5,207.5 414.5,207.5 415.5,207.5 417.5,207.5 418.5,207.5 419.5,206.5 421.5,206.5 422.5,206.5 424.5,206.5 425.5,206.5 426.5,206.5 428.5,206.5 429.5,206.5 430.5,206.5 432.5,206.5 433.5,206.5 435.5,206.5 436.5,206.5 437.5,206.5 439.5,206.5 440.5,206.5 442.5,206.5 443.5,206.5 444.5,206.5 446.5,207.5 447.5,207.5 448.5,207.5 450.5,207.5 451.5,207.5 453.5,206.5 454.5,206.5 455.5,206.5 457.5,206.5 458.5,206.5 460.5,206.5 461.5,206.5 462.5,206.5 464.5,206.5 465.5,206.5 466.5,206.5 468.5,206.5 469.5,206.5 471.5,206.5 472.5,206.5 473.5,206.5 475.5,206.5 476.5,206.5 478.5,206.5 479.5,206.5 480.5,206.5 482.5,207.5 483.5,207.5 484.5,207.5 486.5,206.5 487.5,206.5 489.5,206.5 490.5,206.5 491.5,206.5 493.5,206.5 494.5,206.5 496.5,206.5 497.5,206.5 498.5,207.5 500.5,207.5 501.5,206.5 502.5,207.5 504.5,207.5 505.5,207.5 507.5,207.5 508.5,207.5 509.5,207.5 511.5,207.5 512.5,207.5 514.5,206.5 515.5,206.5 516.5,207.5 518.5,207.5 519.5,206.5 520.5,206.5 522.5,207.5 523.5,208.5 525.5,207.5 526.5,207.5 527.5,206.5 529.5,207.5 530.5,208.5 532.5,208.5 533.5,207.5 534.5,207.5 536.5,209.5 537.5,208.5 538.5,213.5 540.5,217.5 541.5,215.5 543.5,215.5 544.5,213.5 545.5,211.5 547.5,213.5 548.5,215.5 550.5,210.5 551.5,211.5 552.5,210.5 554.5,209.5 555.5,210.5 556.5,209.5 558.5,210.5 559.5,211.5 561.5,211.5 562.5,209.5 563.5,209.5 565.5,211.5 566.5,210.5 568.5,214.5 569.5,215.5 570.5,215.5 572.5,212.5 573.5,214.5 575.5,215.5 576.5,216.5 577.5,217.5 579.5,219.5 580.5,215.5 581.5,210.5 583.5,210.5 584.5,211.5 586.5,214.5 587.5,218.5 588.5,220.5 590.5,212.5 591.5,208.5 593.5,209.5 594.5,208.5 595.5,208.5 597.5,207.5 598.5,207.5 599.5,207.5 601.5,209.5 602.5,209.5 604.5,209.5 605.5,208.5 606.5,208.5 608.5,215.5 609.5,209.5 611.5,208.5 612.5,207.5 613.5,207.5 615.5,208.5 616.5,209.5 617.5,209.5 619.5,209.5 620.5,209.5 622.5,207.5 623.5,207.5 624.5,207.5 626.5,208.5 627.5,208.5 629.5,208.5 630.5,209.5 631.5,209.5 633.5,208.5 634.5,207.5 635.5,206.5 637.5,207.5 638.5,207.5 640.5,207.5 641.5,206.5 642.5,207.5 644.5,208.5 645.5,209.5 647.5,209.5 648.5,209.5 649.5,208.5 651.5,208.5 652.5,208.5 653.5,210.5 655.5,211.5 656.5,211.5 658.5,213.5 659.5,211.5 660.5,208.5 662.5,207.5 663.5,207.5 665.5,206.5 666.5,207.5 667.5,207.5 669.5,207.5 670.5,207.5 671.5,207.5 673.5,210.5 674.5,212.5 676.5,214.5 677.5,211.5 678.5,208.5 680.5,207.5 681.5,208.5 683.5,207.5 684.5,207.5 685.5,207.5 687.5,207.5 688.5,211.5 689.5,212.5 691.5,215.5 692.5,210.5 694.5,207.5 695.5,208.5 696.5,208.5 698.5,210.5 699.5,213.5 701.5,214.5 702.5,213.5 703.5,212.5 705.5,211.5 706.5,210.5 707.5,208.5 709.5,207.5 710.5,208.5 712.5,208.5 713.5,207.5 714.5,207.5 716.5,207.5 717.5,207.5 719.5,206.5 720.5,207.5 721.5,206.5 723.5,206.5 724.5,208.5 725.5,208.5 727.5,207.5 728.5,207.5 730.5,207.5 731.5,209.5 732.5,208.5 734.5,209.5 735.5,209.5 737.5,208.5 738.5,209.5 739.5,207.5 741.5,207.5 742.5,207.5 743.5,206.5 745.5,207.5 746.5,207.5 748.5,207.5 749.5,207.5 750.5,207.5 752.5,209.5 753.5,210.5 755.5,210.5 756.5,209.5 757.5,208.5 759.5,207.5 760.5,207.5 761.5,207.5 763.5,207.5 764.5,206.5 766.5,206.5 767.5,208.5 768.5,207.5 770.5,207.5 771.5,207.5 773.5,206.5 774.5,206.5 775.5,207.5 777.5,207.5 778.5,206.5 779.5,206.5 781.5,207.5 782.5,207.5 784.5,207.5 785.5,215.5 786.5,207.5 788.5,207.5 789.5,207.5 791.5,207.5 792.5,207.5 793.5,207.5 795.5,207.5 796.5,207.5 797.5,207.5 799.5,207.5 800.5,207.5 802.5,207.5 803.5,207.5 804.5,207.5 806.5,207.5 807.5,207.5 809.5,207.5 810.5,208.5 811.5,208.5 813.5,207.5 814.5,207.5 815.5,207.5 817.5,207.5 818.5,207.5 820.5,207.5 821.5,207.5 822.5,207.5 824.5,208.5 825.5,208.5 827.5,207.5 828.5,207.5 829.5,207.5 831.5,207.5 832.5,208.5 833.5,208.5 835.5,207.5 836.5,207.5 838.5,208.5 839.5,208.5 840.5,208.5 842.5,208.5 843.5,207.5 845.5,207.5 846.5,208.5 847.5,207.5 849.5,206.5 850.5,206.5 851.5,207.5 853.5,207.5 854.5,207.5 856.5,207.5 857.5,207.5 858.5,206.5 860.5,206.5 861.5,207.5 863.5,207.5 864.5,206.5 865.5,206.5 867.5,206.5 868.5,206.5 869.5,207.5 871.5,206.5 872.5,206.5 874.5,206.5 875.5,207.5 876.5,207.5 878.5,206.5 879.5,206.5 881.5,206.5 882.5,206.5 883.5,206.5 885.5,206.5 886.5,206.5 887.5,206.5 889.5,206.5 890.5,206.5 892.5,206.5 893.5,206.5 894.5,206.5 896.5,206.5 897.5,206.5 899.5,206.5 900.5,206.5 901.5,206.5 903.5,206.5 904.5,206.5 905.5,206.5 907.5,206.5 908.5,206.5 910.5,206.5 911.5,206.5 912.5,206.5 914.5,206.5 915.5,206.5 917.5,206.5 918.5,207.5 919.5,207.5 921.5,206.5 922.5,206.5 923.5,206.5 925.5,206.5 926.5,207.5 928.5,207.5 929.5,208.5 930.5,207.5 932.5,206.5 933.5,206.5 935.5,205.5 936.5,205.5 937.5,205.5 939.5,205.5 940.5,205.5 941.5,205.5 943.5,205.5 944.5,205.5 946.5,206.5 947.5,206.5 948.5,206.5 950.5,206.5 951.5,206.5 953.5,206.5 954.5,206.5 955.5,206.5 957.5,206.5 958.5,206.5 959.5,206.5 961.5,206.5 962.5,206.5 964.5,206.5 965.5,206.5 966.5,206.5 968.5,206.5 969.5,206.5 971.5,206.5 972.5,206.5 973.5,206.5 975.5,207.5 976.5,207.5 977.5,206.5 979.5,206.5 980.5,206.5 982.5,206.5 983.5,206.5 984.5,206.5 986.5,206.5 987.5,206.5 989.5,206.5 990.5,206.5 991.5,206.5 993.5,206.5 994.5,206.5 995.5,206.5 997.5,206.5 998.5,206.5 1000.5,206.5 1001.5,206.5 1002.5,206.5 1004.5,206.5 1005.5,205.5 1007.5,207.5 1008.5,206.5 1009.5,206.5 1011.5,207.5 1012.5,208.5 1013.5,208.5 1015.5,207.5 1016.5,207.5 1018.5,206.5 1019.5,207.5 1020.5,208.5 1022.5,210.5 1023.5,211.5 1025.5,209.5 1026.5,210.5 1027.5,208.5 1029.5,208.5 1030.5,207.5 1031.5,207.5 1033.5,207.5 1034.5,209.5 1036.5,210.5 1037.5,210.5 1038.5,210.5 1040.5,213.5 1041.5,214.5 1043.5,216.5 1044.5,214.5 1045.5,212.5 1047.5,209.5 1048.5,208.5 1049.5,211.5 1051.5,213.5 1052.5,213.5 1054.5,212.5 1055.5,212.5 1056.5,213.5 1058.5,212.5 1059.5,211.5 1061.5,210.5 1062.5,210.5 1063.5,210.5 1065.5,208.5 1066.5,207.5 1067.5,207.5 1069.5,209.5 1070.5,210.5 1072.5,209.5 1073.5,207.5 1074.5,208.5 1076.5,210.5 1077.5,213.5 1079.5,217.5 1080.5,218.5 1081.5,217.5 1083.5,217.5 1084.5,212.5 1086.5,208.5 1087.5,207.5 1088.5,206.5 1090.5,206.5 1091.5,207.5 1092.5,207.5 1094.5,210.5 1095.5,209.5 1097.5,210.5 1098.5,209.5 1099.5,208.5 1101.5,208.5 1102.5,214.5 1104.5,209.5 1105.5,209.5 1106.5,209.5 1108.5,208.5 1109.5,207.5 1110.5,207.5 1112.5,207.5 1113.5,207.5 1115.5,209.5 1116.5,210.5 1117.5,209.5 1119.5,209.5 1120.5,210.5 1122.5,209.5 1123.5,208.5 1124.5,208.5 1126.5,207.5 1127.5,206.5 1128.5,207.5 1130.5,207.5 1131.5,206.5 1133.5,206.5 1134.5,207.5 1135.5,207.5 1137.5,207.5 1138.5,207.5 1140.5,207.5 1141.5,207.5 1142.5,208.5 1144.5,208.5 1145.5,208.5 1146.5,208.5 1148.5,208.5 1149.5,208.5 1151.5,208.5 1152.5,208.5 1153.5,208.5 1155.5,208.5 1156.5,208.5 1158.5,209.5 1159.5,209.5 1160.5,208.5 1162.5,208.5 1163.5,209.5 1164.5,209.5 1166.5,208.5 1167.5,208.5 1169.5,207.5 1170.5,206.5 1171.5,207.5 1173.5,209.5 1174.5,209.5 1176.5,211.5 1177.5,212.5 1178.5,212.5 1180.5,213.5 1181.5,213.5 1182.5,213.5 1184.5,215.5 1185.5,214.5 1187.5,213.5 1188.5,211.5 1189.5,209.5 1191.5,208.5 1192.5,209.5 1194.5,209.5 1195.5,208.5 1196.5,207.5 1198.5,206.5 1199.5,208.5 1200.5,207.5 1202.5,207.5 1203.5,207.5 1205.5,207.5 1206.5,207.5 1207.5,207.5 1209.5,207.5 1210.5,208.5 1212.5,208.5 1213.5,208.5 1214.5,208.5 1216.5,208.5 1217.5,208.5 1218.5,208.5 1220.5,207.5 1221.5,207.5 1223.5,208.5 1224.5,208.5 1225.5,207.5 1227.5,207.5 1228.5,207.5 1230.5,207.5 1231.5,207.5 1232.5,207.5 1234.5,207.5 1235.5,208.5 1236.5,208.5 1238.5,208.5 1239.5,207.5 1241.5,207.5 1242.5,207.5 1243.5,207.5 1245.5,207.5 1246.5,207.5 1248.5,206.5 1249.5,206.5 1250.5,207.5 1252.5,207.5 1253.5,207.5 1254.5,207.5 1256.5,207.5 1257.5,207.5 1259.5,207.5 1260.5,207.5 1261.5,207.5 1263.5,207.5 1264.5,207.5 1266.5,207.5 1267.5,207.5 1268.5,207.5 1270.5,207.5 1271.5,207.5 1272.5,207.5 1274.5,207.5 1275.5,207.5 1277.5,207.5 1278.5,207.5 1279.5,208.5 1281.5,208.5 1282.5,207.5 1284.5,207.5 1285.5,208.5 1286.5,208.5 1288.5,208.5 1289.5,208.5 1290.5,208.5 1292.5,208.5 1293.5,208.5 1295.5,208.5 1296.5,207.5 1297.5,207.5 1299.5,207.5 1300.5,207.5 1302.5,207.5 1303.5,207.5 1304.5,208.5 1306.5,207.5 1307.5,207.5 1308.5,208.5 1310.5,208.5 1311.5,207.5 1313.5,207.5 1314.5,208.5 1315.5,207.5 1317.5,207.5 1318.5,207.5 1320.5,207.5 1321.5,207.5 1322.5,207.5 1324.5,207.5 1325.5,207.5 1326.5,207.5 1328.5,207.5 1329.5,207.5 1331.5,207.5 1332.5,207.5 1333.5,206.5 1335.5,206.5 1336.5,207.5 1338.5,207.5 1339.5,206.5 1340.5,206.5 1342.5,206.5 1343.5,206.5"/><use href="#c" x="57.5" y="222.5"/><use href="#c" x="58.5" y="216.5"/><use href="#c" x="59.5" y="212.5"/><use href="#c" x="61.5" y="215.5"/><use href="#c" x="62.5" y="217.5"/><use href="#c" x="64.5" y="219.5"/><use href="#c" x="65.5" y="215.5"/><use href="#c" x="66.5" y="211.5"/><use href="#c" x="68.5" y="211.5"/><use href="#c" x="69.5" y="213.5"/><use href="#c" x="70.5" y="215.5"/><use href="#c" x="72.5" y="217.5"/><use href="#c" x="73.5" y="212.5"/><use href="#c" x="75.5" y="213.5"/><use href="#c" x="76.5" y="213.5"/><use href="#c" x="77.5" y="212.5"/><use href="#c" x="79.5" y="212.5"/><use href="#c" x="80.5" y="211.5"/><use href="#c" x="82.5" y="212.5"/><use href="#c" x="83.5" y="212.5"/><use href="#c" x="84.5" y="212.5"/><use href="#c" x="86.5" y="212.5"/><use href="#c" x="87.5" y="212.5"/><use href="#c" x="88.5" y="213.5"/><use href="#c" x="90.5" y="215.5"/><use href="#c" x="91.5" y="216.5"/><use href="#c" x="93.5" y="218.5"/><use href="#c" x="94.5" y="222.5"/><use href="#c" x="95.5" y="218.5"/><use href="#c" x="97.5" y="215.5"/><use href="#c" x="98.5" y="213.5"/><use href="#c" x="100.5" y="210.5"/><use href="#c" x="101.5" y="210.5"/><use href="#c" x="102.5" y="210.5"/><use href="#c" x="104.5" y="214.5"/><use href="#c" x="105.5" y="216.5"/><use href="#c" x="106.5" y="216.5"/><use href="#c" x="108.5" y="215.5"/><use href="#c" x="109.5" y="218.5"/><use href="#c" x="111.5" y="220.5"/><use href="#c" x="112.5" y="223.5"/><use href="#c" x="113.5" y="227.5"/><use href="#c" x="115.5" y="221.5"/><use href="#c" x="116.5" y="218.5"/><use href="#c" x="118.5" y="215.5"/><use href="#c" x="119.5" y="210.5"/><use href="#c" x="120.5" y="210.5"/><use href="#c" x="122.5" y="210.5"/><use href="#c" x="123.5" y="210.5"/><use href="#c" x="124.5" y="214.5"/><use href="#c" x="126.5" y="218.5"/><use href="#c" x="127.5" y="221.5"/><use href="#c" x="129.5" y="215.5"/><use href="#c" x="130.5" y="210.5"/><use href="#c" x="131.5" y="214.5"/><use href="#c" x="133.5" y="215.5"/><use href="#c" x="134.5" y="214.5"/><use href="#c" x="136.5" y="213.5"/><use href="#c" x="137.5" y="210.5"/><use href="#c" x="138.5" y="211.5"/><use href="#c" x="140.5" y="212.5"/><use href="#c" x="141.5" y="210.5"/><use href="#c" x="142.5" y="210.5"/><use href="#c" x="144.5" y="210.5"/><use href="#c" x="145.5" y="210.5"/><use href="#c" x="147.5" y="210.5"/><use href="#c" x="148.5" y="212.5"/><use href="#c" x="149.5" y="212.5"/><use href="#c" x="151.5" y="211.5"/><use href="#c" x="152.5" y="211.5"/><use href="#c" x="154.5" y="211.5"/><use href="#c" x="155.5" y="210.5"/><use href="#c" x="156.5" y="211.5"/><use href="#c" x="158.5" y="210.5"/><use href="#c" x="159.5" y="210.5"/><use href="#c" x="160.5" y="211.5"/><use href="#c" x="162.5" y="213.5"/><use href="#c" x="163.5" y="217.5"/><use href="#c" x="165.5" y="219.5"/><use href="#c" x="166.5" y="213.5"/><use href="#c" x="167.5" y="209.5"/><use href="#c" x="169.5" y="211.5"/><use href="#c" x="170.5" y="210.5"/><use href="#c" x="172.5" y="213.5"/><use href="#c" x="173.5" y="215.5"/><use href="#c" x="174.5" y="217.5"/><use href="#c" x="176.5" y="213.5"/><use href="#c" x="177.5" y="210.5"/><use href="#c" x="178.5" y="210.5"/><use href="#c" x="180.5" y="210.5"/><use href="#c" x="181.5" y="210.5"/><use href="#c" x="183.5" y="212.5"/><use href="#c" x="184.5" y="212.5"/><use href="#c" x="185.5" y="210.5"/><use href="#c" x="187.5" y="210.5"/><use href="#c" x="188.5" y="210.5"/><use href="#c" x="190.5" y="215.5"/><use href="#c" x="191.5" y="219.5"/><use href="#c" x="192.5" y="222.5"/><use href="#c" x="194.5" y="226.5"/><use href="#c" x="195.5" y="230.5"/><use href="#c" x="196.5" y="231.5"/><use href="#c" x="198.5" y="233.5"/><use href="#c" x="199.5" y="233.5"/><use href="#c" x="201.5" y="233.5"/><use href="#c" x="202.5" y="231.5"/><use href="#c" x="203.5" y="231.5"/><use href="#c" x="205.5" y="225.5"/><use href="#c" x="206.5" y="215.5"/><use href="#c" x="208.5" y="208.5"/><use href="#c" x="209.5" y="207.5"/><use href="#c" x="210.5" y="207.5"/><use href="#c" x="212.5" y="208.5"/><use href="#c" x="213.5" y="208.5"/><use href="#c" x="214.5" y="207.5"/><use href="#c" x="216.5" y="207.5"/><use href="#c" x="217.5" y="206.5"/><use href="#c" x="219.5" y="206.5"/><use href="#c" x="220.5" y="208.5"/><use href="#c" x="221.5" y="208.5"/><use href="#c" x="223.5" y="207.5"/><use href="#c" x="224.5" y="208.5"/><use href="#c" x="226.5" y="210.5"/><use href="#c" x="227.5" y="209.5"/><use href="#c" x="228.5" y="208.5"/><use href="#c" x="230.5" y="207.5"/><use href="#c" x="231.5" y="207.5"/><use href="#c" x="232.5" y="208.5"/><use href="#c" x="234.5" y="211.5"/><use href="#c" x="235.5" y="213.5"/><use href="#c" x="237.5" y="216.5"/><use href="#c" x="238.5" y="213.5"/><use href="#c" x="239.5" y="210.5"/><use href="#c" x="241.5" y="210.5"/><use href="#c" x="242.5" y="208.5"/><use href="#c" x="244.5" y="208.5"/><use href="#c" x="245.5" y="207.5"/><use href="#c" x="246.5" y="207.5"/><use href="#c" x="248.5" y="208.5"/><use href="#c" x="249.5" y="208.5"/><use href="#c" x="250.5" y="207.5"/><use href="#c" x="252.5" y="207.5"/><use href="#c" x="253.5" y="209.5"/><use href="#c" x="255.5" y="208.5"/><use href="#c" x="256.5" y="210.5"/><use href="#c" x="257.5" y="209.5"/><use href="#c" x="259.5" y="208.5"/><use href="#c" x="260.5" y="207.5"/><use href="#c" x="262.5" y="207.5"/><use href="#c" x="263.5" y="208.5"/><use href="#c" x="264.5" y="208.5"/><use href="#c" x="266.5" y="207.5"/><use href="#c" x="267.5" y="207.5"/><use href="#c" x="268.5" y="206.5"/><use href="#c" x="270.5" y="208.5"/><use href="#c" x="271.5" y="209.5"/><use href="#c" x="273.5" y="210.5"/><use href="#c" x="274.5" y="209.5"/><use href="#c" x="275.5" y="208.5"/><use href="#c" x="277.5" y="208.5"/><use href="#c" x="278.5" y="209.5"/><use href="#c" x="280.5" y="208.5"/><use href="#c" x="281.5" y="209.5"/><use href="#c" x="282.5" y="208.5"/><use href="#c" x="284.5" y="208.5"/><use href="#c" x="285.5" y="209.5"/><use href="#c" x="286.5" y="209.5"/><use href="#c" x="288.5" y="207.5"/><use href="#c" x="289.5" y="206.5"/><use href="#c" x="291.5" y="206.5"/><use href="#c" x="292.5" y="207.5"/><use href="#c" x="293.5" y="206.5"/><use href="#c" x="295.5" y="206.5"/><use href="#c" x="296.5" y="205.5"/><use href="#c" x="298.5" y="205.5"/><use href="#c" x="299.5" y="206.5"/><use href="#c" x="300.5" y="206.5"/><use href="#c" x="302.5" y="206.5"/><use href="#c" x="303.5" y="206.5"/><use href="#c" x="304.5" y="206.5"/><use href="#c" x="306.5" y="206.5"/><use href="#c" x="307.5" y="206.5"/><use href="#c" x="309.5" y="206.5"/><use href="#c" x="310.5" y="206.5"/><use href="#c" x="311.5" y="206.5"/><use href="#c" x="313.5" y="206.5"/><use href="#c" x="314.5" y="206.5"/><use href="#c" x="316.5" y="206.5"/><use href="#c" x="317.5" y="206.5"/><use href="#c" x="318.5" y="206.5"/><use href="#c" x="320.5" y="206.5"/><use href="#c" x="321.5" y="206.5"/><use href="#c" x="322.5" y="207.5"/><use href="#c" x="324.5" y="207.5"/><use href="#c" x="325.5" y="208.5"/><use href="#c" x="327.5" y="207.5"/><use href="#c" x="328.5" y="206.5"/><use href="#c" x="329.5" y="207.5"/><use href="#c" x="331.5" y="207.5"/><use href="#c" x="332.5" y="208.5"/><use href="#c" x="334.5" y="208.5"/><use href="#c" x="335.5" y="209.5"/><use href="#c" x="336.5" y="209.5"/><use href="#c" x="338.5" y="209.5"/><use href="#c" x="339.5" y="208.5"/><use href="#c" x="340.5" y="207.5"/><use href="#c" x="342.5" y="206.5"/><use href="#c" x="343.5" y="206.5"/><use href="#c" x="345.5" y="206.5"/><use href="#c" x="346.5" y="206.5"/><use href="#c" x="347.5" y="207.5"/><use href="#c" x="349.5" y="207.5"/><use href="#c" x="350.5" y="206.5"/><use href="#c" x="352.5" y="207.5"/><use href="#c" x="353.5" y="206.5"/><use href="#c" x="354.5" y="206.5"/><use href="#c" x="356.5" y="206.5"/><use href="#c" x="357.5" y="206.5"/><use href="#c" x="358.5" y="206.5"/><use href="#c" x="360.5" y="206.5"/><use href="#c" x="361.5" y="206.5"/><use href="#c" x="363.5" y="206.5"/><use href="#c" x="364.5" y="206.5"/><use href="#c" x="365.5" y="206.5"/><use href="#c" x="367.5" y="206.5"/><use href="#c" x="368.5" y="206.5"/><use href="#c" x="370.5" y="206.5"/><use href="#c" x="371.5" y="206.5"/><use href="#c" x="372.5" y="206.5"/><use href="#c" x="374.5" y="206.5"/><use href="#c" x="375.5" y="206.5"/><use href="#c" x="376.5" y="207.5"/><use href="#c" x="378.5" y="207.5"/><use href="#c" x="379.5" y="206.5"/><use href="#c" x="381.5" y="206.5"/><use href="#c" x="382.5" y="206.5"/><use href="#c" x="383.5" y="206.5"/><use href="#c" x="385.5" y="206.5"/><use href="#c" x="386.5" y="207.5"/><use href="#c" x="388.5" y="206.5"/><use href="#c" x="389.5" y="206.5"/><use href="#c" x="390.5" y="206.5"/><use href="#c" x="392.5" y="206.5"/><use href="#c" x="393.5" y="206.5"/><use href="#c" x="394.5" y="206.5"/><use href="#c" x="396.5" y="206.5"/><use href="#c" x="397.5" y="206.5"/><use href="#c" x="399.5" y="207.5"/><use href="#c" x="400.5" y="207.5"/><use href="#c" x="401.5" y="206.5"/><use href="#c" x="403.5" y="206.5"/><use href="#c" x="404.5" y="206.5"/><use href="#c" x="406.5" y="206.5"/><use href="#c" x="407.5" y="206.5"/><use href="#c" x="408.5" y="206.5"/><use href="#c" x="410.5" y="206.5"/><use href="#c" x="411.5" y="206.5"/><use href="#c" x="412.5" y="207.5"/><use href="#c" x="414.5" y="207.5"/><use href="#c" x="415.5" y="207.5"/><use href="#c" x="417.5" y="207.5"/><use href="#c" x="418.5" y="207.5"/><use href="#c" x="419.5" y="206.5"/><use href="#c" x="421.5" y="206.5"/><use href="#c" x="422.5" y="206.5"/><use href="#c" x="424.5" y="206.5"/><use href="#c" x="425.5" y="206.5"/><use href="#c" x="426.5" y="206.5"/><use href="#c" x="428.5" y="206.5"/><use href="#c" x="429.5" y="206.5"/><use href="#c" x="430.5" y="206.5"/><use href="#c" x="432.5" y="206.5"/><use href="#c" x="433.5" y="206.5"/><use href="#c" x="435.5" y="206.5"/><use href="#c" x="436.5" y="206.5"/><use href="#c" x="437.5" y="206.5"/><use href="#c" x="439.5" y="206.5"/><use href="#c" x="440.5" y="206.5"/><use href="#c" x="442.5" y="206.5"/><use href="#c" x="443.5" y="206.5"/><use href="#c" x="444.5" y="206.5"/><use href="#c" x="446.5" y="207.5"/><use href="#c" x="447.5" y="207.5"/><use href="#c" x="448.5" y="207.5"/><use href="#c" x="450.5" y="207.5"/><use href="#c" x="451.5" y="207.5"/><use href="#c" x="453.5" y="206.5"/><use href="#c" x="454.5" y="206.5"/><use href="#c" x="455.5" y="206.5"/><use href="#c" x="457.5" y="206.5"/><use href="#c" x="458.5" y="206.5"/><use href="#c" x="460.5" y="206.5"/><use href="#c" x="461.5" y="206.5"/><use href="#c" x="462.5" y="206.5"/><use href="#c" x="464.5" y="206.5"/><use href="#c" x="465.5" y="206.5"/><use href="#c" x="466.5" y="206.5"/><use href="#c" x="468.5" y="206.5"/><use href="#c" x="469.5" y="206.5"/><use href="#c" x="471.5" y="206.5"/><use href="#c" x="472.5" y="206.5"/><use href="#c" x="473.5" y="206.5"/><use href="#c" x="475.5" y="206.5"/><use href="#c" x="476.5" y="206.5"/><use href="#c" x="478.5" y="206.5"/><use href="#c" x="479.5" y="206.5"/><use href="#c" x="480.5" y="206.5"/><use href="#c" x="482.5" y="207.5"/><use href="#c" x="483.5" y="207.5"/><use href="#c" x="484.5" y="207.5"/><use href="#c" x="486.5" y="206.5"/><use href="#c" x="487.5" y="206.5"/><use href="#c" x="489.5" y="206.5"/><use href="#c" x="490.5" y="206.5"/><use href="#c" x="491.5" y="206.5"/><use href="#c" x="493.5" y="206.5"/><use href="#c" x="494.5" y="206.5"/><use href="#c" x="496.5" y="206.5"/><use href="#c" x="497.5" y="206.5"/><use href="#c" x="498.5" y="207.5"/><use href="#c" x="500.5" y="207.5"/><use href="#c" x="501.5" y="206.5"/><use href="#c" x="502.5" y="207.5"/><use href="#c" x="504.5" y="207.5"/><use href="#c" x="505.5" y="207.5"/><use href="#c" x="507.5" y="207.5"/><use href="#c" x="508.5" y="207.5"/><use href="#c" x="509.5" y="207.5"/><use href="#c" x="511.5" y="207.5"/><use href="#c" x="512.5" y="207.5"/><use href="#c" x="514.5" y="206.5"/><use href="#c" x="515.5" y="206.5"/><use href="#c" x="516.5" y="207.5"/><use href="#c" x="518.5" y="207.5"/><use href="#c" x="519.5" y="206.5"/><use href="#c" x="520.5" y="206.5"/><use href="#c" x="522.5" y="207.5"/><use href="#c" x="523.5" y="208.5"/><use href="#c" x="525.5" y="207.5"/><use href="#c" x="526.5" y="207.5"/><use href="#c" x="527.5" y="206.5"/><use href="#c" x="529.5" y="207.5"/><use href="#c" x="530.5" y="208.5"/><use href="#c" x="532.5" y="208.5"/><use href="#c" x="533.5" y="207.5"/><use href="#c" x="534.5" y="207.5"/><use href="#c" x="536.5" y="209.5"/><use href="#c" x="537.5" y="208.5"/><use href="#c" x="538.5" y="213.5"/><use href="#c" x="540.5" y="217.5"/><use href="#c" x="541.5" y="215.5"/><use href="#c" x="543.5" y="215.5"/><use href="#c" x="544.5" y="213.5"/><use href="#c" x="545.5" y="211.5"/><use href="#c" x="547.5" y="213.5"/><use href="#c" x="548.5" y="215.5"/><use href="#c" x="550.5" y="210.5"/><use href="#c" x="551.5" y="211.5"/><use href="#c" x="552.5" y="210.5"/><use href="#c" x="554.5" y="209.5"/><use href="#c" x="555.5" y="210.5"/><use href="#c" x="556.5" y="209.5"/><use href="#c" x="558.5" y="210.5"/><use href="#c" x="559.5" y="211.5"/><use href="#c" x="561.5" y="211.5"/><use href="#c" x="562.5" y="209.5"/><use href="#c" x="563.5" y="209.5"/><use href="#c" x="565.5" y="211.5"/><use href="#c" x="566.5" y="210.5"/><use href="#c" x="568.5" y="214.5"/><use href="#c" x="569.5" y="215.5"/><use href="#c" x="570.5" y="215.5"/><use href="#c" x="572.5" y="212.5"/><use href="#c" x="573.5" y="214.5"/><use href="#c" x="575.5" y="215.5"/><use href="#c" x="576.5" y="216.5"/><use href="#c" x="577.5" y="217.5"/><use href="#c" x="579.5" y="219.5"/><use href="#c" x="580.5" y="215.5"/><use href="#c" x="581.5" y="210.5"/><use href="#c" x="583.5" y="210.5"/><use href="#c" x="584.5" y="211.5"/><use href="#c" x="586.5" y="214.5"/><use href="#c" x="587.5" y="218.5"/><use href="#c" x="588.5" y="220.5"/><use href="#c" x="590.5" y="212.5"/><use href="#c" x="591.5" y="208.5"/><use href="#c" x="593.5" y="209.5"/><use href="#c" x="594.5" y="208.5"/><use href="#c" x="595.5" y="208.5"/><use href="#c" x="597.5" y="207.5"/><use href="#c" x="598.5" y="207.5"/><use href="#c" x="599.5" y="207.5"/><use href="#c" x="601.5" y="209.5"/><use href="#c" x="602.5" y="209.5"/><use href="#c" x="604.5" y="209.5"/><use href="#c" x="605.5" y="208.5"/><use href="#c" x="606.5" y="208.5"/><use href="#c" x="608.5" y="215.5"/><use href="#c" x="609.5" y="209.5"/><use href="#c" x="611.5" y="208.5"/><use href="#c" x="612.5" y="207.5"/><use href="#c" x="613.5" y="207.5"/><use href="#c" x="615.5" y="208.5"/><use href="#c" x="616.5" y="209.5"/><use href="#c" x="617.5" y="209.5"/><use href="#c" x="619.5" y="209.5"/><use href="#c" x="620.5" y="209.5"/><use href="#c" x="622.5" y="207.5"/><use href="#c" x="623.5" y="207.5"/><use href="#c" x="624.5" y="207.5"/><use href="#c" x="626.5" y="208.5"/><use href="#c" x="627.5" y="208.5"/><use href="#c" x="629.5" y="208.5"/><use href="#c" x="630.5" y="209.5"/><use href="#c" x="631.5" y="209.5"/><use href="#c" x="633.5" y="208.5"/><use href="#c" x="634.5" y="207.5"/><use href="#c" x="635.5" y="206.5"/><use href="#c" x="637.5" y="207.5"/><use href="#c" x="638.5" y="207.5"/><use href="#c" x="640.5" y="207.5"/><use href="#c" x="641.5" y="206.5"/><use href="#c" x="642.5" y="207.5"/><use href="#c" x="644.5" y="208.5"/><use href="#c" x="645.5" y="209.5"/><use href="#c" x="647.5" y="209.5"/><use href="#c" x="648.5" y="209.5"/><use href="#c" x="649.5" y="208.5"/><use href="#c" x="651.5" y="208.5"/><use href="#c" x="652.5" y="208.5"/><use href="#c" x="653.5" y="210.5"/><use href="#c" x="655.5" y="211.5"/><use href="#c" x="656.5" y="211.5"/><use href="#c" x="658.5" y="213.5"/><use href="#c" x="659.5" y="211.5"/><use href="#c" x="660.5" y="208.5"/><use href="#c" x="662.5" y="207.5"/><use href="#c" x="663.5" y="207.5"/><use href="#c" x="665.5" y="206.5"/><use href="#c" x="666.5" y="207.5"/><use href="#c" x="667.5" y="207.5"/><use href="#c" x="669.5" y="207.5"/><use href="#c" x="670.5" y="207.5"/><use href="#c" x="671.5" y="207.5"/><use href="#c" x="673.5" y="210.5"/><use href="#c" x="674.5" y="212.5"/><use href="#c" x="676.5" y="214.5"/><use href="#c" x="677.5" y="211.5"/><use href="#c" x="678.5" y="208.5"/><use href="#c" x="680.5" y="207.5"/><use href="#c" x="681.5" y="208.5"/><use href="#c" x="683.5" y="207.5"/><use href="#c" x="684.5" y="207.5"/><use href="#c" x="685.5" y="207.5"/><use href="#c" x="687.5" y="207.5"/><use href="#c" x="688.5" y="211.5"/><use href="#c" x="689.5" y="212.5"/><use href="#c" x="691.5" y="215.5"/><use href="#c" x="692.5" y="210.5"/><use href="#c" x="694.5" y="207.5"/><use href="#c" x="695.5" y="208.5"/><use href="#c" x="696.5" y="208.5"/><use href="#c" x="698.5" y="210.5"/><use href="#c" x="699.5" y="213.5"/><use href="#c" x="701.5" y="214.5"/><use href="#c" x="702.5" y="213.5"/><use href="#c" x="703.5" y="212.5"/><use href="#c" x="705.5" y="211.5"/><use href="#c" x="706.5" y="210.5"/><use href="#c" x="707.5" y="208.5"/><use href="#c" x="709.5" y="207.5"/><use href="#c" x="710.5" y="208.5"/><use href="#c" x="712.5" y="208.5"/><use href="#c" x="713.5" y="207.5"/><use href="#c" x="714.5" y="207.5"/><use href="#c" x="716.5" y="207.5"/><use href="#c" x="717.5" y="207.5"/><use href="#c" x="719.5" y="206.5"/><use href="#c" x="720.5" y="207.5"/><use href="#c" x="721.5" y="206.5"/><use href="#c" x="723.5" y="206.5"/><use href="#c" x="724.5" y="208.5"/><use href="#c" x="725.5" y="208.5"/><use href="#c" x="727.5" y="207.5"/><use href="#c" x="728.5" y="207.5"/><use href="#c" x="730.5" y="207.5"/><use href="#c" x="731.5" y="209.5"/><use href="#c" x="732.5" y="208.5"/><use href="#c" x="734.5" y="209.5"/><use href="#c" x="735.5" y="209.5"/><use href="#c" x="737.5" y="208.5"/><use href="#c" x="738.5" y="209.5"/><use href="#c" x="739.5" y="207.5"/><use href="#c" x="741.5" y="207.5"/><use href="#c" x="742.5" y="207.5"/><use href="#c" x="743.5" y="206.5"/><use href="#c" x="745.5" y="207.5"/><use href="#c" x="746.5" y="207.5"/><use href="#c" x="748.5" y="207.5"/><use href="#c" x="749.5" y="207.5"/><use href="#c" x="750.5" y="207.5"/><use href="#c" x="752.5" y="209.5"/><use href="#c" x="753.5" y="210.5"/><use href="#c" x="755.5" y="210.5"/><use href="#c" x="756.5" y="209.5"/><use href="#c" x="757.5" y="208.5"/><use href="#c" x="759.5" y="207.5"/><use href="#c" x="760.5" y="207.5"/><use href="#c" x="761.5" y="207.5"/><use href="#c" x="763.5" y="207.5"/><use href="#c" x="764.5" y="206.5"/><use href="#c" x="766.5" y="206.5"/><use href="#c" x="767.5" y="208.5"/><use href="#c" x="768.5" y="207.5"/><use href="#c" x="770.5" y="207.5"/><use href="#c" x="771.5" y="207.5"/><use href="#c" x="773.5" y="206.5"/><use href="#c" x="774.5" y="206.5"/><use href="#c" x="775.5" y="207.5"/><use href="#c" x="777.5" y="207.5"/><use href="#c" x="778.5" y="206.5"/><use href="#c" x="779.5" y="206.5"/><use href="#c" x="781.5" y="207.5"/><use href="#c" x="782.5" y="207.5"/><use href="#c" x="784.5" y="207.5"/><use href="#c" x="785.5" y="215.5"/><use href="#c" x="786.5" y="207.5"/><use href="#c" x="788.5" y="207.5"/><use href="#c" x="789.5" y="207.5"/><use href="#c" x="791.5" y="207.5"/><use href="#c" x="792.5" y="207.5"/><use href="#c" x="793.5" y="207.5"/><use href="#c" x="795.5" y="207.5"/><use href="#c" x="796.5" y="207.5"/><use href="#c" x="797.5" y="207.5"/><use href="#c" x="799.5" y="207.5"/><use href="#c" x="800.5" y="207.5"/><use href="#c" x="802.5" y="207.5"/><use href="#c" x="803.5" y="207.5"/><use href="#c" x="804.5" y="207.5"/><use href="#c" x="806.5" y="207.5"/><use href="#c" x="807.5" y="207.5"/><use href="#c" x="809.5" y="207.5"/><use href="#c" x="810.5" y="208.5"/><use href="#c" x="811.5" y="208.5"/><use href="#c" x="813.5" y="207.5"/><use href="#c" x="814.5" y="207.5"/><use href="#c" x="815.5" y="207.5"/><use href="#c" x="817.5" y="207.5"/><use href="#c" x="818.5" y="207.5"/><use href="#c" x="820.5" y="207.5"/><use href="#c" x="821.5" y="207.5"/><use href="#c" x="822.5" y="207.5"/><use href="#c" x="824.5" y="208.5"/><use href="#c" x="825.5" y="208.5"/><use href="#c" x="827.5" y="207.5"/><use href="#c" x="828.5" y="207.5"/><use href="#c" x="829.5" y="207.5"/><use href="#c" x="831.5" y="207.5"/><use href="#c" x="832.5" y="208.5"/><use href="#c" x="833.5" y="208.5"/><use href="#c" x="835.5" y="207.5"/><use href="#c" x="836.5" y="207.5"/><use href="#c" x="838.5" y="208.5"/><use href="#c" x="839.5" y="208.5"/><use href="#c" x="840.5" y="208.5"/><use href="#c" x="842.5" y="208.5"/><use href="#c" x="843.5" y="207.5"/><use href="#c" x="845.5" y="207.5"/><use href="#c" x="846.5" y="208.5"/><use href="#c" x="847.5" y="207.5"/><use href="#c" x="849.5" y="206.5"/><use href="#c" x="850.5" y="206.5"/><use href="#c" x="851.5" y="207.5"/><use href="#c" x="853.5" y="207.5"/><use href="#c" x="854.5" y="207.5"/><use href="#c" x="856.5" y="207.5"/><use href="#c" x="857.5" y="207.5"/><use href="#c" x="858.5" y="206.5"/><use href="#c" x="860.5" y="206.5"/><use href="#c" x="861.5" y="207.5"/><use href="#c" x="863.5" y="207.5"/><use href="#c" x="864.5" y="206.5"/><use href="#c" x="865.5" y="206.5"/><use href="#c" x="867.5" y="206.5"/><use href="#c" x="868.5" y="206.5"/><use href="#c" x="869.5" y="207.5"/><use href="#c" x="871.5" y="206.5"/><use href="#c" x="872.5" y="206.5"/><use href="#c" x="874.5" y="206.5"/><use href="#c" x="875.5" y="207.5"/><use href="#c" x="876.5" y="207.5"/><use href="#c" x="878.5" y="206.5"/><use href="#c" x="879.5" y="206.5"/><use href="#c" x="881.5" y="206.5"/><use href="#c" x="882.5" y="206.5"/><use href="#c" x="883.5" y="206.5"/><use href="#c" x="885.5" y="206.5"/><use href="#c" x="886.5" y="206.5"/><use href="#c" x="887.5" y="206.5"/><use href="#c" x="889.5" y="206.5"/><use href="#c" x="890.5" y="206.5"/><use href="#c" x="892.5" y="206.5"/><use href="#c" x="893.5" y="206.5"/><use href="#c" x="894.5" y="206.5"/><use href="#c" x="896.5" y="206.5"/><use href="#c" x="897.5" y="206.5"/><use href="#c" x="899.5" y="206.5"/><use href="#c" x="900.5" y="206.5"/><use href="#c" x="901.5" y="206.5"/><use href="#c" x="903.5" y="206.5"/><use href="#c" x="904.5" y="206.5"/><use href="#c" x="905.5" y="206.5"/><use href="#c" x="907.5" y="206.5"/><use href="#c" x="908.5" y="206.5"/><use href="#c" x="910.5" y="206.5"/><use href="#c" x="911.5" y="206.5"/><use href="#c" x="912.5" y="206.5"/><use href="#c" x="914.5" y="206.5"/><use href="#c" x="915.5" y="206.5"/><use href="#c" x="917.5" y="206.5"/><use href="#c" x="918.5" y="207.5"/><use href="#c" x="919.5" y="207.5"/><use href="#c" x="921.5" y="206.5"/><use href="#c" x="922.5" y="206.5"/><use href="#c" x="923.5" y="206.5"/><use href="#c" x="925.5" y="206.5"/><use href="#c" x="926.5" y="207.5"/><use href="#c" x="928.5" y="207.5"/><use href="#c" x="929.5" y="208.5"/><use href="#c" x="930.5" y="207.5"/><use href="#c" x="932.5" y="206.5"/><use href="#c" x="933.5" y="206.5"/><use href="#c" x="935.5" y="205.5"/><use href="#c" x="936.5" y="205.5"/><use href="#c" x="937.5" y="205.5"/><use href="#c" x="939.5" y="205.5"/><use href="#c" x="940.5" y="205.5"/><use href="#c" x="941.5" y="205.5"/><use href="#c" x="943.5" y="205.5"/><use href="#c" x="944.5" y="205.5"/><use href="#c" x="946.5" y="206.5"/><use href="#c" x="947.5" y="206.5"/><use href="#c" x="948.5" y="206.5"/><use href="#c" x="950.5" y="206.5"/><use href="#c" x="951.5" y="206.5"/><use href="#c" x="953.5" y="206.5"/><use href="#c" x="954.5" y="206.5"/><use href="#c" x="955.5" y="206.5"/><use href="#c" x="957.5" y="206.5"/><use href="#c" x="958.5" y="206.5"/><use href="#c" x="959.5" y="206.5"/><use href="#c" x="961.5" y="206.5"/><use href="#c" x="962.5" y="206.5"/><use href="#c" x="964.5" y="206.5"/><use href="#c" x="965.5" y="206.5"/><use href="#c" x="966.5" y="206.5"/><use href="#c" x="968.5" y="206.5"/><use href="#c" x="969.5" y="206.5"/><use href="#c" x="971.5" y="206.5"/><use href="#c" x="972.5" y="206.5"/><use href="#c" x="973.5" y="206.5"/><use href="#c" x="975.5" y="207.5"/><use href="#c" x="976.5" y="207.5"/><use href="#c" x="977.5" y="206.5"/><use href="#c" x="979.5" y="206.5"/><use href="#c" x="980.5" y="206.5"/><use href="#c" x="982.5" y="206.5"/><use href="#c" x="983.5" y="206.5"/><use href="#c" x="984.5" y="206.5"/><use href="#c" x="986.5" y="206.5"/><use href="#c" x="987.5" y="206.5"/><use href="#c" x="989.5" y="206.5"/><use href="#c" x="990.5" y="206.5"/><use href="#c" x="991.5" y="206.5"/><use href="#c" x="993.5" y="206.5"/><use href="#c" x="994.5" y="206.5"/><use href="#c" x="995.5" y="206.5"/><use href="#c" x="997.5" y="206.5"/><use href="#c" x="998.5" y="206.5"/><use href="#c" x="1000.5" y="206.5"/><use href="#c" x="1001.5" y="206.5"/><use href="#c" x="1002.5" y="206.5"/><use href="#c" x="1004.5" y="206.5"/><use href="#c" x="1005.5" y="205.5"/><use href="#c" x="1007.5" y="207.5"/><use href="#c" x="1008.5" y="206.5"/><use href="#c" x="1009.5" y="206.5"/><use href="#c" x="1011.5" y="207.5"/><use href="#c" x="1012.5" y="208.5"/><use href="#c" x="1013.5" y="208.5"/><use href="#c" x="1015.5" y="207.5"/><use href="#c" x="1016.5" y="207.5"/><use href="#c" x="1018.5" y="206.5"/><use href="#c" x="1019.5" y="207.5"/><use href="#c" x="1020.5" y="208.5"/><use href="#c" x="1022.5" y="210.5"/><use href="#c" x="1023.5" y="211.5"/><use href="#c" x="1025.5" y="209.5"/><use href="#c" x="1026.5" y="210.5"/><use href="#c" x="1027.5" y="208.5"/><use href="#c" x="1029.5" y="208.5"/><use href="#c" x="1030.5" y="207.5"/><use href="#c" x="1031.5" y="207.5"/><use href="#c" x="1033.5" y="207.5"/><use href="#c" x="1034.5" y="209.5"/><use href="#c" x="1036.5" y="210.5"/><use href="#c" x="1037.5" y="210.5"/><use href="#c" x="1038.5" y="210.5"/><use href="#c" x="1040.5" y="213.5"/><use href="#c" x="1041.5" y="214.5"/><use href="#c" x="1043.5" y="216.5"/><use href="#c" x="1044.5" y="214.5"/><use href="#c" x="1045.5" y="212.5"/><use href="#c" x="1047.5" y="209.5"/><use href="#c" x="1048.5" y="208.5"/><use href="#c" x="1049.5" y="211.5"/><use href="#c" x="1051.5" y="213.5"/><use href="#c" x="1052.5" y="213.5"/><use href="#c" x="1054.5" y="212.5"/><use href="#c" x="1055.5" y="212.5"/><use href="#c" x="1056.5" y="213.5"/><use href="#c" x="1058.5" y="212.5"/><use href="#c" x="1059.5" y="211.5"/><use href="#c" x="1061.5" y="210.5"/><use href="#c" x="1062.5" y="210.5"/><use href="#c" x="1063.5" y="210.5"/><use href="#c" x="1065.5" y="208.5"/><use href="#c" x="1066.5" y="207.5"/><use href="#c" x="1067.5" y="207.5"/><use href="#c" x="1069.5" y="209.5"/><use href="#c" x="1070.5" y="210.5"/><use href="#c" x="1072.5" y="209.5"/><use href="#c" x="1073.5" y="207.5"/><use href="#c" x="1074.5" y="208.5"/><use href="#c" x="1076.5" y="210.5"/><use href="#c" x="1077.5" y="213.5"/><use href="#c" x="1079.5" y="217.5"/><use href="#c" x="1080.5" y="218.5"/><use href="#c" x="1081.5" y="217.5"/><use href="#c" x="1083.5" y="217.5"/><use href="#c" x="1084.5" y="212.5"/><use href="#c" x="1086.5" y="208.5"/><use href="#c" x="1087.5" y="207.5"/><use href="#c" x="1088.5" y="206.5"/><use href="#c" x="1090.5" y="206.5"/><use href="#c" x="1091.5" y="207.5"/><use href="#c" x="1092.5" y="207.5"/><use href="#c" x="1094.5" y="210.5"/><use href="#c" x="1095.5" y="209.5"/><use href="#c" x="1097.5" y="210.5"/><use href="#c" x="1098.5" y="209.5"/><use href="#c" x="1099.5" y="208.5"/><use href="#c" x="1101.5" y="208.5"/><use href="#c" x="1102.5" y="214.5"/><use href="#c" x="1104.5" y="209.5"/><use href="#c" x="1105.5" y="209.5"/><use href="#c" x="1106.5" y="209.5"/><use href="#c" x="1108.5" y="208.5"/><use href="#c" x="1109.5" y="207.5"/><use href="#c" x="1110.5" y="207.5"/><use href="#c" x="1112.5" y="207.5"/><use href="#c" x="1113.5" y="207.5"/><use href="#c" x="1115.5" y="209.5"/><use href="#c" x="1116.5" y="210.5"/><use href="#c" x="1117.5" y="209.5"/><use href="#c" x="1119.5" y="209.5"/><use href="#c" x="1120.5" y="210.5"/><use href="#c" x="1122.5" y="209.5"/><use href="#c" x="1123.5" y="208.5"/><use href="#c" x="1124.5" y="208.5"/><use href="#c" x="1126.5" y="207.5"/><use href="#c" x="1127.5" y="206.5"/><use href="#c" x="1128.5" y="207.5"/><use href="#c" x="1130.5" y="207.5"/><use href="#c" x="1131.5" y="206.5"/><use href="#c" x="1133.5" y="206.5"/><use href="#c" x="1134.5" y="207.5"/><use href="#c" x="1135.5" y="207.5"/><use href="#c" x="1137.5" y="207.5"/><use href="#c" x="1138.5" y="207.5"/><use href="#c" x="1140.5" y="207.5"/><use href="#c" x="1141.5" y="207.5"/><use href="#c" x="1142.5" y="208.5"/><use href="#c" x="1144.5" y="208.5"/><use href="#c" x="1145.5" y="208.5"/><use href="#c" x="1146.5" y="208.5"/><use href="#c" x="1148.5" y="208.5"/><use href="#c" x="1149.5" y="208.5"/><use href="#c" x="1151.5" y="208.5"/><use href="#c" x="1152.5" y="208.5"/><use href="#c" x="1153.5" y="208.5"/><use href="#c" x="1155.5" y="208.5"/><use href="#c" x="1156.5" y="208.5"/><use href="#c" x="1158.5" y="209.5"/><use href="#c" x="1159.5" y="209.5"/><use href="#c" x="1160.5" y="208.5"/><use href="#c" x="1162.5" y="208.5"/><use href="#c" x="1163.5" y="209.5"/><use href="#c" x="1164.5" y="209.5"/><use href="#c" x="1166.5" y="208.5"/><use href="#c" x="1167.5" y="208.5"/><use href="#c" x="1169.5" y="207.5"/><use href="#c" x="1170.5" y="206.5"/><use href="#c" x="1171.5" y="207.5"/><use href="#c" x="1173.5" y="209.5"/><use href="#c" x="1174.5" y="209.5"/><use href="#c" x="1176.5" y="211.5"/><use href="#c" x="1177.5" y="212.5"/><use href="#c" x="1178.5" y="212.5"/><use href="#c" x="1180.5" y="213.5"/><use href="#c" x="1181.5" y="213.5"/><use href="#c" x="1182.5" y="213.5"/><use href="#c" x="1184.5" y="215.5"/><use href="#c" x="1185.5" y="214.5"/><use href="#c" x="1187.5" y="213.5"/><use href="#c" x="1188.5" y="211.5"/><use href="#c" x="1189.5" y="209.5"/><use href="#c" x="1191.5" y="208.5"/><use href="#c" x="1192.5" y="209.5"/><use href="#c" x="1194.5" y="209.5"/><use href="#c" x="1195.5" y="208.5"/><use href="#c" x="1196.5" y="207.5"/><use href="#c" x="1198.5" y="206.5"/><use href="#c" x="1199.5" y="208.5"/><use href="#c" x="1200.5" y="207.5"/><use href="#c" x="1202.5" y="207.5"/><use href="#c" x="1203.5" y="207.5"/><use href="#c" x="1205.5" y="207.5"/><use href="#c" x="1206.5" y="207.5"/><use href="#c" x="1207.5" y="207.5"/><use href="#c" x="1209.5" y="207.5"/><use href="#c" x="1210.5" y="208.5"/><use href="#c" x="1212.5" y="208.5"/><use href="#c" x="1213.5" y="208.5"/><use href="#c" x="1214.5" y="208.5"/><use href="#c" x="1216.5" y="208.5"/><use href="#c" x="1217.5" y="208.5"/><use href="#c" x="1218.5" y="208.5"/><use href="#c" x="1220.5" y="207.5"/><use href="#c" x="1221.5" y="207.5"/><use href="#c" x="1223.5" y="208.5"/><use href="#c" x="1224.5" y="208.5"/><use href="#c" x="1225.5" y="207.5"/><use href="#c" x="1227.5" y="207.5"/><use href="#c" x="1228.5" y="207.5"/><use href="#c" x="1230.5" y="207.5"/><use href="#c" x="1231.5" y="207.5"/><use href="#c" x="1232.5" y="207.5"/><use href="#c" x="1234.5" y="207.5"/><use href="#c" x="1235.5" y="208.5"/><use href="#c" x="1236.5" y="208.5"/><use href="#c" x="1238.5" y="208.5"/><use href="#c" x="1239.5" y="207.5"/><use href="#c" x="1241.5" y="207.5"/><use href="#c" x="1242.5" y="207.5"/><use href="#c" x="1243.5" y="207.5"/><use href="#c" x="1245.5" y="207.5"/><use href="#c" x="1246.5" y="207.5"/><use href="#c" x="1248.5" y="206.5"/><use href="#c" x="1249.5" y="206.5"/><use href="#c" x="1250.5" y="207.5"/><use href="#c" x="1252.5" y="207.5"/><use href="#c" x="1253.5" y="207.5"/><use href="#c" x="1254.5" y="207.5"/><use href="#c" x="1256.5" y="207.5"/><use href="#c" x="1257.5" y="207.5"/><use href="#c" x="1259.5" y="207.5"/><use href="#c" x="1260.5" y="207.5"/><use href="#c" x="1261.5" y="207.5"/><use href="#c" x="1263.5" y="207.5"/><use href="#c" x="1264.5" y="207.5"/><use href="#c" x="1266.5" y="207.5"/><use href="#c" x="1267.5" y="207.5"/><use href="#c" x="1268.5" y="207.5"/><use href="#c" x="1270.5" y="207.5"/><use href="#c" x="1271.5" y="207.5"/><use href="#c" x="1272.5" y="207.5"/><use href="#c" x="1274.5" y="207.5"/><use href="#c" x="1275.5" y="207.5"/><use href="#c" x="1277.5" y="207.5"/><use href="#c" x="1278.5" y="207.5"/><use href="#c" x="1279.5" y="208.5"/><use href="#c" x="1281.5" y="208.5"/><use href="#c" x="1282.5" y="207.5"/><use href="#c" x="1284.5" y="207.5"/><use href="#c" x="1285.5" y="208.5"/><use href="#c" x="1286.5" y="208.5"/><use href="#c" x="1288.5" y="208.5"/><use href="#c" x="1289.5" y="208.5"/><use href="#c" x="1290.5" y="208.5"/><use href="#c" x="1292.5" y="208.5"/><use href="#c" x="1293.5" y="208.5"/><use href="#c" x="1295.5" y="208.5"/><use href="#c" x="1296.5" y="207.5"/><use href="#c" x="1297.5" y="207.5"/><use href="#c" x="1299.5" y="207.5"/><use href="#c" x="1300.5" y="207.5"/><use href="#c" x="1302.5" y="207.5"/><use href="#c" x="1303.5" y="207.5"/><use href="#c" x="1304.5" y="208.5"/><use href="#c" x="1306.5" y="207.5"/><use href="#c" x="1307.5" y="207.5"/><use href="#c" x="1308.5" y="208.5"/><use href="#c" x="1310.5" y="208.5"/><use href="#c" x="1311.5" y="207.5"/><use href="#c" x="1313.5" y="207.5"/><use href="#c" x="1314.5" y="208.5"/><use href="#c" x="1315.5" y="207.5"/><use href="#c" x="1317.5" y="207.5"/><use href="#c" x="1318.5" y="207.5"/><use href="#c" x="1320.5" y="207.5"/><use href="#c" x="1321.5" y="207.5"/><use href="#c" x="1322.5" y="207.5"/><use href="#c" x="1324.5" y="207.5"/><use href="#c" x="1325.5" y="207.5"/><use href="#c" x="1326.5" y="207.5"/><use href="#c" x="1328.5" y="207.5"/><use href="#c" x="1329.5" y="207.5"/><use href="#c" x="1331.5" y="207.5"/><use href="#c" x="1332.5" y="207.5"/><use href="#c" x="1333.5" y="206.5"/><use href="#c" x="1335.5" y="206.5"/><use href="#c" x="1336.5" y="207.5"/><use href="#c" x="1338.5" y="207.5"/><use href="#c" x="1339.5" y="206.5"/><use href="#c" x="1340.5" y="206.5"/><use href="#c" x="1342.5" y="206.5"/><use href="#c" x="1343.5" y="206.5"/></g><text x="41.4" y="502.5" font-size="11" font-weight="bold" fill="#f00" text-anchor="end">0</text><text x="41.4" y="435.5" font-size="11" font-weight="bold" fill="#f00" text-anchor="end">1</text><text x="41.4" y="367.5" font-size="11" font-weight="bold" fill="#f00" text-anchor="end">2</text><text x="41.4" y="299.5" font-size="11" font-weight="bold" fill="#f00" text-anchor="end">3</text><text x="41.4" y="232.5" font-size="11" font-weight="bold" fill="#f00" text-anchor="end">4</text><text x="41.4" y="164.5" font-size="11" font-weight="bold" fill="#f00" text-anchor="end">5</text><g font-size="11" font-weight="bold" fill="#000" stroke="#000" stroke-width="0.25" letter-spacing="-0.12"><text transform="translate(58.01 555.3) rotate(-90)">14.10.18</text><text transform="translate(74.63 555.3) rotate(-90)">14.10.30</text><text transform="translate(91.25 555.3) rotate(-90)">14.11.11</text><text transform="translate(107.86 555.3) rotate(-90)">14.11.23</text><text transform="translate(124.48 555.3) rotate(-90)">14.12.05</text><text transform="translate(141.10 555.3) rotate(-90)">14.12.17</text><text transform="translate(157.72 555.3) rotate(-90)">14.12.29</text><text transform="translate(174.33 555.3) rotate(-90)">15.01.10</text><text transform="translate(190.95 555.3) rotate(-90)">15.01.22</text><text transform="translate(207.57 555.3) rotate(-90)">15.02.03</text><text transform="translate(224.19 555.3) rotate(-90)">15.02.15</text><text transform="translate(240.81 555.3) rotate(-90)">15.02.27</text><text transform="translate(257.42 555.3) rotate(-90)">15.03.11</text><text transform="translate(274.04 555.3) rotate(-90)">15.03.23</text><text transform="translate(290.66 555.3) rotate(-90)">15.04.04</text><text transform="translate(307.28 555.3) rotate(-90)">15.04.16</text><text transform="translate(323.90 555.3) rotate(-90)">15.04.28</text><text transform="translate(340.51 555.3) rotate(-90)">15.05.10</text><text transform="translate(357.13 555.3) rotate(-90)">15.05.22</text><text transform="translate(373.75 555.3) rotate(-90)">15.06.03</text><text transform="translate(390.37 555.3) rotate(-90)">15.06.15</text><text transform="translate(406.98 555.3) rotate(-90)">15.06.27</text><text transform="translate(423.60 555.3) rotate(-90)">15.07.09</text><text transform="translate(440.22 555.3) rotate(-90)">15.07.21</text><text transform="translate(456.84 555.3) rotate(-90)">15.08.02</text><text transform="translate(473.46 555.3) rotate(-90)">15.08.14</text><text transform="translate(490.07 555.3) rotate(-90)">15.08.26</text><text transform="translate(506.69 555.3) rotate(-90)">15.09.07</text><text transform="translate(523.31 555.3) rotate(-90)">15.09.19</text><text transform="translate(539.93 555.3) rotate(-90)">15.10.01</text><text transform="translate(556.55 555.3) rotate(-90)">15.10.13</text><text transform="translate(573.16 555.3) rotate(-90)">15.10.25</text><text transform="translate(589.78 555.3) rotate(-90)">15.11.06</text><text transform="translate(606.40 555.3) rotate(-90)">15.11.18</text><text transform="translate(623.02 555.3) rotate(-90)">15.11.30</text><text transform="translate(639.63 555.3) rotate(-90)">15.12.12</text><text transform="translate(656.25 555.3) rotate(-90)">15.12.24</text><text transform="translate(672.87 555.3) rotate(-90)">16.01.05</text><text transform="translate(689.49 555.3) rotate(-90)">16.01.17</text><text transform="translate(706.11 555.3) rotate(-90)">16.01.29</text><text transform="translate(722.72 555.3) rotate(-90)">16.02.10</text><text transform="translate(739.34 555.3) rotate(-90)">16.02.22</text><text transform="translate(755.96 555.3) rotate(-90)">16.03.05</text><text transform="translate(772.58 555.3) rotate(-90)">16.03.17</text><text transform="translate(789.19 555.3) rotate(-90)">16.03.29</text><text transform="translate(805.81 555.3) rotate(-90)">16.04.10</text><text transform="translate(822.43 555.3) rotate(-90)">16.04.22</text><text transform="translate(839.05 555.3) rotate(-90)">16.05.04</text><text transform="translate(855.67 555.3) rotate(-90)">16.05.16</text><text transform="translate(872.28 555.3) rotate(-90)">16.05.28</text><text transform="translate(888.90 555.3) rotate(-90)">16.06.09</text><text transform="translate(905.52 555.3) rotate(-90)">16.06.21</text><text transform="translate(922.14 555.3) rotate(-90)">16.07.03</text><text transform="translate(938.76 555.3) rotate(-90)">16.07.15</text><text transform="translate(955.37 555.3) rotate(-90)">16.07.27</text><text transform="translate(971.99 555.3) rotate(-90)">16.08.08</text><text transform="translate(988.61 555.3) rotate(-90)">16.08.20</text><text transform="translate(1005.23 555.3) rotate(-90)">16.09.01</text><text transform="translate(1021.84 555.3) rotate(-90)">16.09.13</text><text transform="translate(1038.46 555.3) rotate(-90)">16.09.25</text><text transform="translate(1055.08 555.3) rotate(-90)">16.10.07</text><text transform="translate(1071.70 555.3) rotate(-90)">16.10.19</text><text transform="translate(1088.32 555.3) rotate(-90)">16.10.31</text><text transform="translate(1104.93 555.3) rotate(-90)">16.11.12</text><text transform="translate(1121.55 555.3) rotate(-90)">16.11.24</text><text transform="translate(1138.17 555.3) rotate(-90)">16.12.06</text><text transform="translate(1154.79 555.3) rotate(-90)">16.12.18</text><text transform="translate(1171.41 555.3) rotate(-90)">16.12.30</text><text transform="translate(1188.02 555.3) rotate(-90)">17.01.11</text><text transform="translate(1204.64 555.3) rotate(-90)">17.01.23</text><text transform="translate(1221.26 555.3) rotate(-90)">17.02.04</text><text transform="translate(1237.88 555.3) rotate(-90)">17.02.16</text><text transform="translate(1254.49 555.3) rotate(-90)">17.02.28</text><text transform="translate(1271.11 555.3) rotate(-90)">17.03.12</text><text transform="translate(1287.73 555.3) rotate(-90)">17.03.24</text><text transform="translate(1304.35 555.3) rotate(-90)">17.04.05</text><text transform="translate(1320.97 555.3) rotate(-90)">17.04.17</text><text transform="translate(1337.58 555.3) rotate(-90)">17.04.29</text></g><g font-size="16" font-weight="bold" fill="#000"><text x="489.0" y="92.2" textLength="104.4" lengthAdjust="spacing">[3864AD7A3]</text><text x="594.6" y="92.2" textLength="87.5" lengthAdjust="spacing">[2014-09-07</text><text x="704.5" y="92.2" textLength="91.5" lengthAdjust="spacing">2017-05-08]</text></g><text transform="translate(24.0 313.2) rotate(-90)" font-size="13" font-weight="bold" fill="#f00">(v)</text><text class="cjkserif" x="449.6" y="92.8" font-size="18" font-weight="bold" fill="#000" textLength="37.4" lengthAdjust="spacing">设备</text><text class="cjkserif" x="686.4" y="92.8" font-size="18" font-weight="bold" fill="#000">至</text><text class="cjkserif" x="797.1" y="92.8" font-size="18" font-weight="bold" fill="#000" textLength="113.3" lengthAdjust="spacing">工作状态分析</text><text class="cjk" x="110.2" y="122.8" font-size="12" fill="#000">电压</text><text class="cjk" x="686.8" y="575" font-size="14.6" font-weight="bold" fill="#000" textLength="30" lengthAdjust="spacing">时间</text><text class="cjk" transform="translate(25.6 341.4) rotate(-90)" x="-0.5" y="0" font-size="15" font-weight="bold" fill="#f00" textLength="29" lengthAdjust="spacing">电压</text></svg>
</body></html>
